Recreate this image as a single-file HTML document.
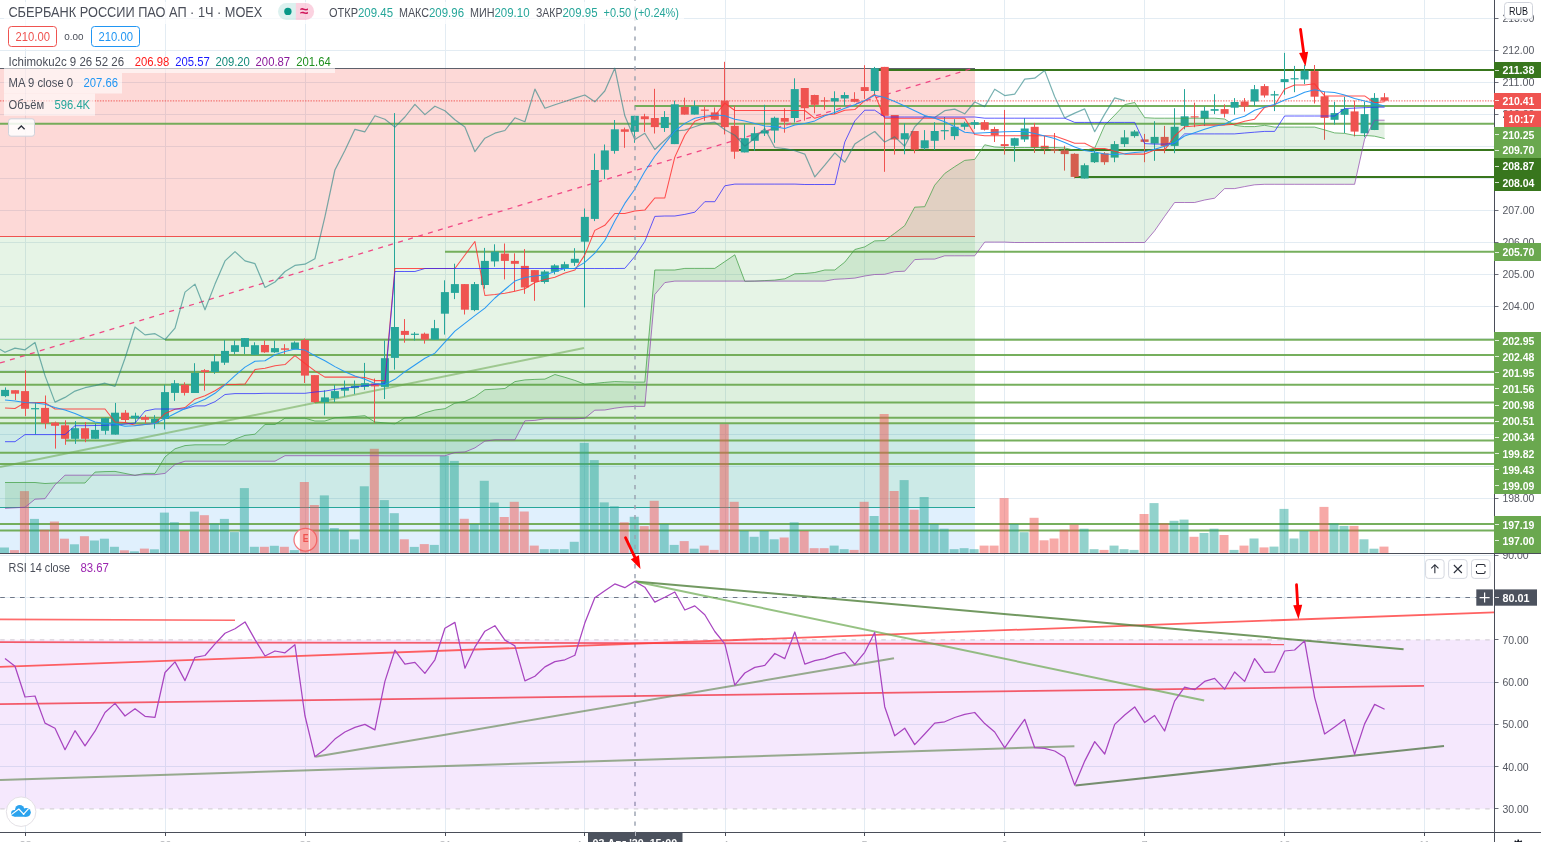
<!DOCTYPE html>
<html lang="ru"><head><meta charset="utf-8"><title>chart</title><style>html,body{margin:0;padding:0;background:#fff}body{width:1541px;height:842px;overflow:hidden}</style></head><body>
<svg width="1541" height="842" viewBox="0 0 1541 842" font-family='"Liberation Sans", "DejaVu Sans", sans-serif' style="display:block">
<rect width="1541" height="842" fill="#fff"/>
<defs><clipPath id="p1"><rect x="0" y="0" width="1494" height="553"/></clipPath><clipPath id="p2"><rect x="0" y="554" width="1494" height="278"/></clipPath></defs>
<g shape-rendering="crispEdges">
<rect x="25" y="0" width="1" height="832" fill="#e3ecf3"/>
<rect x="165" y="0" width="1" height="832" fill="#e3ecf3"/>
<rect x="305" y="0" width="1" height="832" fill="#e3ecf3"/>
<rect x="445" y="0" width="1" height="832" fill="#e3ecf3"/>
<rect x="584" y="0" width="1" height="832" fill="#e3ecf3"/>
<rect x="725" y="0" width="1" height="832" fill="#e3ecf3"/>
<rect x="864" y="0" width="1" height="832" fill="#e3ecf3"/>
<rect x="1004" y="0" width="1" height="832" fill="#e3ecf3"/>
<rect x="1144" y="0" width="1" height="832" fill="#e3ecf3"/>
<rect x="1284" y="0" width="1" height="832" fill="#e3ecf3"/>
<rect x="1424" y="0" width="1" height="832" fill="#e3ecf3"/>
<rect x="0" y="530" width="1494" height="1" fill="#e3ecf3"/>
<rect x="0" y="498" width="1494" height="1" fill="#e3ecf3"/>
<rect x="0" y="466" width="1494" height="1" fill="#e3ecf3"/>
<rect x="0" y="434" width="1494" height="1" fill="#e3ecf3"/>
<rect x="0" y="402" width="1494" height="1" fill="#e3ecf3"/>
<rect x="0" y="370" width="1494" height="1" fill="#e3ecf3"/>
<rect x="0" y="338" width="1494" height="1" fill="#e3ecf3"/>
<rect x="0" y="306" width="1494" height="1" fill="#e3ecf3"/>
<rect x="0" y="274" width="1494" height="1" fill="#e3ecf3"/>
<rect x="0" y="242" width="1494" height="1" fill="#e3ecf3"/>
<rect x="0" y="210" width="1494" height="1" fill="#e3ecf3"/>
<rect x="0" y="178" width="1494" height="1" fill="#e3ecf3"/>
<rect x="0" y="146" width="1494" height="1" fill="#e3ecf3"/>
<rect x="0" y="114" width="1494" height="1" fill="#e3ecf3"/>
<rect x="0" y="82" width="1494" height="1" fill="#e3ecf3"/>
<rect x="0" y="50" width="1494" height="1" fill="#e3ecf3"/>
<rect x="0" y="18" width="1494" height="1" fill="#e3ecf3"/>
<rect x="0" y="555" width="1494" height="1" fill="#e3ecf3"/>
<rect x="0" y="597" width="1494" height="1" fill="#e3ecf3"/>
<rect x="0" y="682" width="1494" height="1" fill="#e3ecf3"/>
<rect x="0" y="724" width="1494" height="1" fill="#e3ecf3"/>
<rect x="0" y="766" width="1494" height="1" fill="#e3ecf3"/>
</g>
<g clip-path="url(#p1)">
<rect x="0" y="69" width="975" height="167.5" fill="rgba(244,67,54,0.2)"/>
<rect x="0" y="237" width="975" height="103" fill="rgba(76,175,80,0.14)"/>
<rect x="0" y="340" width="975" height="83.39999999999998" fill="rgba(76,175,80,0.19)"/>
<rect x="0" y="423.4" width="975" height="84.0" fill="rgba(0,150,136,0.2)"/>
<rect x="0" y="507.4" width="975" height="45.60000000000002" fill="rgba(33,150,243,0.14)"/>
<g shape-rendering="crispEdges">
<rect x="0" y="68" width="975" height="1" fill="#5d606b"/>
<rect x="0" y="236" width="975" height="1" fill="#ef5350"/>
<rect x="0" y="507" width="975" height="1" fill="#26a69a"/>
<rect x="0" y="339" width="975" height="1" fill="rgba(76,175,80,0.45)"/>
</g>
<line x1="875" y1="70.0" x2="1494" y2="70.0" stroke="#38761d" stroke-width="2" stroke-opacity="1"/>
<line x1="634.5" y1="105.9" x2="1494" y2="105.9" stroke="#6aa84f" stroke-width="2" stroke-opacity="0.92"/>
<line x1="0" y1="123.8" x2="1494" y2="123.8" stroke="#6aa84f" stroke-width="2" stroke-opacity="0.92"/>
<line x1="739" y1="150.0" x2="1494" y2="150.0" stroke="#38761d" stroke-width="2" stroke-opacity="1"/>
<line x1="1075" y1="177.0" x2="1494" y2="177.0" stroke="#38761d" stroke-width="2" stroke-opacity="1"/>
<line x1="445" y1="251.7" x2="1494" y2="251.7" stroke="#6aa84f" stroke-width="2" stroke-opacity="0.92"/>
<line x1="165" y1="339.8" x2="1494" y2="339.8" stroke="#6aa84f" stroke-width="2" stroke-opacity="0.92"/>
<line x1="0" y1="355.0" x2="1494" y2="355.0" stroke="#6aa84f" stroke-width="2" stroke-opacity="0.92"/>
<line x1="0" y1="371.9" x2="1494" y2="371.9" stroke="#6aa84f" stroke-width="2" stroke-opacity="0.92"/>
<line x1="0" y1="384.7" x2="1494" y2="384.7" stroke="#6aa84f" stroke-width="2" stroke-opacity="0.92"/>
<line x1="315" y1="402.6" x2="1494" y2="402.6" stroke="#6aa84f" stroke-width="2" stroke-opacity="0.92"/>
<line x1="0" y1="417.7" x2="1494" y2="417.7" stroke="#6aa84f" stroke-width="2" stroke-opacity="0.92"/>
<line x1="0" y1="423.3" x2="1494" y2="423.3" stroke="#6aa84f" stroke-width="2" stroke-opacity="0.92"/>
<line x1="65" y1="440.4" x2="1494" y2="440.4" stroke="#6aa84f" stroke-width="2" stroke-opacity="0.92"/>
<line x1="0" y1="452.8" x2="1494" y2="452.8" stroke="#6aa84f" stroke-width="2" stroke-opacity="0.92"/>
<line x1="0" y1="464.0" x2="1494" y2="464.0" stroke="#6aa84f" stroke-width="2" stroke-opacity="0.92"/>
<line x1="0" y1="524.0" x2="1494" y2="524.0" stroke="#6aa84f" stroke-width="2" stroke-opacity="0.92"/>
<line x1="0" y1="530.4" x2="1494" y2="530.4" stroke="#6aa84f" stroke-width="2" stroke-opacity="0.92"/>
<line x1="0" y1="467" x2="584" y2="348" stroke="#6aa84f" stroke-width="2" stroke-opacity="0.55"/>
<line x1="0" y1="363" x2="972" y2="68.5" stroke="#f0407f" stroke-width="1.3" stroke-dasharray="5,5.4" stroke-opacity="0.95"/>
<line x1="0" y1="100.9" x2="1494" y2="100.9" stroke="#ef5350" stroke-width="1.2" stroke-opacity="0.75" stroke-dasharray="1.4,1.3"/>
<circle cx="305.4" cy="539.7" r="11.4" fill="#fff" stroke="rgb(242,120,125)" stroke-width="1.3"/>
<text x="305.6" y="541.7" font-size="11" font-weight="bold" fill="#ef5350" text-anchor="middle" textLength="5.8" lengthAdjust="spacingAndGlyphs">E</text>
<rect x="-0.05" y="547.5" width="9" height="5.5" fill="rgba(38,166,154,0.5)"/>
<rect x="9.95" y="550.1" width="9" height="2.9" fill="rgba(239,83,80,0.5)"/>
<rect x="19.94" y="491.1" width="9" height="61.9" fill="rgba(239,83,80,0.5)"/>
<rect x="29.94" y="518.9" width="9" height="34.1" fill="rgba(38,166,154,0.5)"/>
<rect x="39.94" y="529.8" width="9" height="23.2" fill="rgba(239,83,80,0.5)"/>
<rect x="49.93" y="521.5" width="9" height="31.5" fill="rgba(239,83,80,0.5)"/>
<rect x="59.93" y="538.7" width="9" height="14.3" fill="rgba(239,83,80,0.5)"/>
<rect x="69.93" y="544.3" width="9" height="8.7" fill="rgba(38,166,154,0.5)"/>
<rect x="79.92" y="536.2" width="9" height="16.8" fill="rgba(239,83,80,0.5)"/>
<rect x="89.92" y="540.5" width="9" height="12.5" fill="rgba(38,166,154,0.5)"/>
<rect x="99.91" y="538.7" width="9" height="14.3" fill="rgba(38,166,154,0.5)"/>
<rect x="109.91" y="546.8" width="9" height="6.2" fill="rgba(38,166,154,0.5)"/>
<rect x="119.91" y="550.3" width="9" height="2.7" fill="rgba(239,83,80,0.5)"/>
<rect x="129.90" y="551.3" width="9" height="1.7" fill="rgba(38,166,154,0.5)"/>
<rect x="139.90" y="548.6" width="9" height="4.4" fill="rgba(239,83,80,0.5)"/>
<rect x="149.90" y="549.3" width="9" height="3.7" fill="rgba(38,166,154,0.5)"/>
<rect x="159.89" y="512.6" width="9" height="40.4" fill="rgba(38,166,154,0.5)"/>
<rect x="169.89" y="522.2" width="9" height="30.8" fill="rgba(38,166,154,0.5)"/>
<rect x="179.89" y="531.1" width="9" height="21.9" fill="rgba(239,83,80,0.5)"/>
<rect x="189.88" y="511.6" width="9" height="41.4" fill="rgba(38,166,154,0.5)"/>
<rect x="199.88" y="515.2" width="9" height="37.8" fill="rgba(239,83,80,0.5)"/>
<rect x="209.88" y="523.5" width="9" height="29.5" fill="rgba(38,166,154,0.5)"/>
<rect x="219.87" y="518.9" width="9" height="34.1" fill="rgba(38,166,154,0.5)"/>
<rect x="229.87" y="532.1" width="9" height="20.9" fill="rgba(38,166,154,0.5)"/>
<rect x="239.87" y="488.1" width="9" height="64.9" fill="rgba(38,166,154,0.5)"/>
<rect x="249.86" y="546.8" width="9" height="6.2" fill="rgba(38,166,154,0.5)"/>
<rect x="259.86" y="546.8" width="9" height="6.2" fill="rgba(239,83,80,0.5)"/>
<rect x="269.86" y="545.8" width="9" height="7.2" fill="rgba(38,166,154,0.5)"/>
<rect x="279.85" y="546.8" width="9" height="6.2" fill="rgba(239,83,80,0.5)"/>
<rect x="289.85" y="550.1" width="9" height="2.9" fill="rgba(38,166,154,0.5)"/>
<rect x="299.84" y="482.0" width="9" height="71.0" fill="rgba(239,83,80,0.5)"/>
<rect x="309.84" y="505.0" width="9" height="48.0" fill="rgba(239,83,80,0.5)"/>
<rect x="319.84" y="495.4" width="9" height="57.6" fill="rgba(38,166,154,0.5)"/>
<rect x="329.83" y="528.1" width="9" height="24.9" fill="rgba(38,166,154,0.5)"/>
<rect x="339.83" y="530.1" width="9" height="22.9" fill="rgba(38,166,154,0.5)"/>
<rect x="349.83" y="539.4" width="9" height="13.6" fill="rgba(38,166,154,0.5)"/>
<rect x="359.82" y="486.3" width="9" height="66.7" fill="rgba(38,166,154,0.5)"/>
<rect x="369.82" y="448.8" width="9" height="104.2" fill="rgba(239,83,80,0.5)"/>
<rect x="379.82" y="500.1" width="9" height="52.9" fill="rgba(38,166,154,0.5)"/>
<rect x="389.81" y="513.2" width="9" height="39.8" fill="rgba(38,166,154,0.5)"/>
<rect x="399.81" y="539.3" width="9" height="13.7" fill="rgba(239,83,80,0.5)"/>
<rect x="409.81" y="546.9" width="9" height="6.1" fill="rgba(38,166,154,0.5)"/>
<rect x="419.80" y="544.1" width="9" height="8.9" fill="rgba(239,83,80,0.5)"/>
<rect x="429.80" y="544.9" width="9" height="8.1" fill="rgba(38,166,154,0.5)"/>
<rect x="439.80" y="455.8" width="9" height="97.2" fill="rgba(38,166,154,0.5)"/>
<rect x="449.79" y="460.9" width="9" height="92.1" fill="rgba(38,166,154,0.5)"/>
<rect x="459.79" y="518.8" width="9" height="34.2" fill="rgba(239,83,80,0.5)"/>
<rect x="469.79" y="524.1" width="9" height="28.9" fill="rgba(38,166,154,0.5)"/>
<rect x="479.78" y="480.8" width="9" height="72.2" fill="rgba(38,166,154,0.5)"/>
<rect x="489.78" y="502.6" width="9" height="50.4" fill="rgba(38,166,154,0.5)"/>
<rect x="499.77" y="517.0" width="9" height="36.0" fill="rgba(239,83,80,0.5)"/>
<rect x="509.77" y="501.8" width="9" height="51.2" fill="rgba(239,83,80,0.5)"/>
<rect x="519.77" y="511.5" width="9" height="41.5" fill="rgba(239,83,80,0.5)"/>
<rect x="529.76" y="545.6" width="9" height="7.4" fill="rgba(239,83,80,0.5)"/>
<rect x="539.76" y="549.2" width="9" height="3.8" fill="rgba(38,166,154,0.5)"/>
<rect x="549.76" y="549.2" width="9" height="3.8" fill="rgba(38,166,154,0.5)"/>
<rect x="559.75" y="549.2" width="9" height="3.8" fill="rgba(38,166,154,0.5)"/>
<rect x="569.75" y="541.8" width="9" height="11.2" fill="rgba(38,166,154,0.5)"/>
<rect x="579.75" y="442.9" width="9" height="110.1" fill="rgba(38,166,154,0.5)"/>
<rect x="589.74" y="460.1" width="9" height="92.9" fill="rgba(38,166,154,0.5)"/>
<rect x="599.74" y="502.4" width="9" height="50.6" fill="rgba(38,166,154,0.5)"/>
<rect x="609.74" y="506.2" width="9" height="46.8" fill="rgba(38,166,154,0.5)"/>
<rect x="619.73" y="522.3" width="9" height="30.7" fill="rgba(239,83,80,0.5)"/>
<rect x="629.73" y="516.8" width="9" height="36.2" fill="rgba(38,166,154,0.5)"/>
<rect x="639.73" y="526.1" width="9" height="26.9" fill="rgba(239,83,80,0.5)"/>
<rect x="649.72" y="500.8" width="9" height="52.2" fill="rgba(239,83,80,0.5)"/>
<rect x="659.72" y="524.1" width="9" height="28.9" fill="rgba(38,166,154,0.5)"/>
<rect x="669.72" y="544.9" width="9" height="8.1" fill="rgba(38,166,154,0.5)"/>
<rect x="679.71" y="541.1" width="9" height="11.9" fill="rgba(239,83,80,0.5)"/>
<rect x="689.71" y="548.7" width="9" height="4.3" fill="rgba(38,166,154,0.5)"/>
<rect x="699.70" y="545.6" width="9" height="7.4" fill="rgba(239,83,80,0.5)"/>
<rect x="709.70" y="549.9" width="9" height="3.1" fill="rgba(239,83,80,0.5)"/>
<rect x="719.70" y="424.2" width="9" height="128.8" fill="rgba(239,83,80,0.5)"/>
<rect x="729.69" y="501.8" width="9" height="51.2" fill="rgba(239,83,80,0.5)"/>
<rect x="739.69" y="531.0" width="9" height="22.0" fill="rgba(38,166,154,0.5)"/>
<rect x="749.69" y="536.8" width="9" height="16.2" fill="rgba(38,166,154,0.5)"/>
<rect x="759.68" y="531.0" width="9" height="22.0" fill="rgba(38,166,154,0.5)"/>
<rect x="769.68" y="539.3" width="9" height="13.7" fill="rgba(38,166,154,0.5)"/>
<rect x="779.68" y="537.5" width="9" height="15.5" fill="rgba(239,83,80,0.5)"/>
<rect x="789.67" y="522.3" width="9" height="30.7" fill="rgba(38,166,154,0.5)"/>
<rect x="799.67" y="531.0" width="9" height="22.0" fill="rgba(239,83,80,0.5)"/>
<rect x="809.67" y="548.2" width="9" height="4.8" fill="rgba(239,83,80,0.5)"/>
<rect x="819.66" y="548.2" width="9" height="4.8" fill="rgba(239,83,80,0.5)"/>
<rect x="829.66" y="545.6" width="9" height="7.4" fill="rgba(38,166,154,0.5)"/>
<rect x="839.66" y="549.2" width="9" height="3.8" fill="rgba(38,166,154,0.5)"/>
<rect x="849.65" y="549.9" width="9" height="3.1" fill="rgba(239,83,80,0.5)"/>
<rect x="859.65" y="501.8" width="9" height="51.2" fill="rgba(239,83,80,0.5)"/>
<rect x="869.65" y="516.0" width="9" height="37.0" fill="rgba(38,166,154,0.5)"/>
<rect x="879.64" y="414.0" width="9" height="139.0" fill="rgba(239,83,80,0.5)"/>
<rect x="889.64" y="491.0" width="9" height="62.0" fill="rgba(239,83,80,0.5)"/>
<rect x="899.63" y="480.1" width="9" height="72.9" fill="rgba(38,166,154,0.5)"/>
<rect x="909.63" y="509.7" width="9" height="43.3" fill="rgba(239,83,80,0.5)"/>
<rect x="919.63" y="497.0" width="9" height="56.0" fill="rgba(38,166,154,0.5)"/>
<rect x="929.62" y="524.1" width="9" height="28.9" fill="rgba(38,166,154,0.5)"/>
<rect x="939.62" y="528.7" width="9" height="24.3" fill="rgba(38,166,154,0.5)"/>
<rect x="949.62" y="549.2" width="9" height="3.8" fill="rgba(38,166,154,0.5)"/>
<rect x="959.61" y="548.2" width="9" height="4.8" fill="rgba(38,166,154,0.5)"/>
<rect x="969.61" y="549.2" width="9" height="3.8" fill="rgba(38,166,154,0.5)"/>
<rect x="979.61" y="545.6" width="9" height="7.4" fill="rgba(239,83,80,0.5)"/>
<rect x="989.60" y="545.6" width="9" height="7.4" fill="rgba(239,83,80,0.5)"/>
<rect x="999.60" y="498.1" width="9" height="54.9" fill="rgba(239,83,80,0.5)"/>
<rect x="1009.60" y="524.1" width="9" height="28.9" fill="rgba(38,166,154,0.5)"/>
<rect x="1019.59" y="532.2" width="9" height="20.8" fill="rgba(38,166,154,0.5)"/>
<rect x="1029.59" y="517.8" width="9" height="35.2" fill="rgba(239,83,80,0.5)"/>
<rect x="1039.59" y="540.3" width="9" height="12.7" fill="rgba(239,83,80,0.5)"/>
<rect x="1049.58" y="538.5" width="9" height="14.5" fill="rgba(239,83,80,0.5)"/>
<rect x="1059.58" y="529.7" width="9" height="23.3" fill="rgba(239,83,80,0.5)"/>
<rect x="1069.58" y="524.6" width="9" height="28.4" fill="rgba(239,83,80,0.5)"/>
<rect x="1079.57" y="528.7" width="9" height="24.3" fill="rgba(38,166,154,0.5)"/>
<rect x="1089.57" y="549.2" width="9" height="3.8" fill="rgba(38,166,154,0.5)"/>
<rect x="1099.57" y="549.9" width="9" height="3.1" fill="rgba(239,83,80,0.5)"/>
<rect x="1109.56" y="545.6" width="9" height="7.4" fill="rgba(38,166,154,0.5)"/>
<rect x="1119.56" y="549.2" width="9" height="3.8" fill="rgba(38,166,154,0.5)"/>
<rect x="1129.55" y="549.9" width="9" height="3.1" fill="rgba(38,166,154,0.5)"/>
<rect x="1139.55" y="514.0" width="9" height="39.0" fill="rgba(239,83,80,0.5)"/>
<rect x="1149.55" y="503.1" width="9" height="49.9" fill="rgba(38,166,154,0.5)"/>
<rect x="1159.54" y="523.4" width="9" height="29.6" fill="rgba(239,83,80,0.5)"/>
<rect x="1169.54" y="520.8" width="9" height="32.2" fill="rgba(38,166,154,0.5)"/>
<rect x="1179.54" y="519.6" width="9" height="33.4" fill="rgba(38,166,154,0.5)"/>
<rect x="1189.53" y="536.8" width="9" height="16.2" fill="rgba(239,83,80,0.5)"/>
<rect x="1199.53" y="533.0" width="9" height="20.0" fill="rgba(38,166,154,0.5)"/>
<rect x="1209.53" y="528.7" width="9" height="24.3" fill="rgba(38,166,154,0.5)"/>
<rect x="1219.52" y="535.0" width="9" height="18.0" fill="rgba(239,83,80,0.5)"/>
<rect x="1229.52" y="549.9" width="9" height="3.1" fill="rgba(38,166,154,0.5)"/>
<rect x="1239.52" y="545.6" width="9" height="7.4" fill="rgba(239,83,80,0.5)"/>
<rect x="1249.51" y="538.5" width="9" height="14.5" fill="rgba(38,166,154,0.5)"/>
<rect x="1259.51" y="547.4" width="9" height="5.6" fill="rgba(239,83,80,0.5)"/>
<rect x="1269.51" y="546.6" width="9" height="6.4" fill="rgba(38,166,154,0.5)"/>
<rect x="1279.50" y="508.9" width="9" height="44.1" fill="rgba(38,166,154,0.5)"/>
<rect x="1289.50" y="538.5" width="9" height="14.5" fill="rgba(38,166,154,0.5)"/>
<rect x="1299.49" y="531.0" width="9" height="22.0" fill="rgba(38,166,154,0.5)"/>
<rect x="1309.49" y="531.0" width="9" height="22.0" fill="rgba(239,83,80,0.5)"/>
<rect x="1319.49" y="506.9" width="9" height="46.1" fill="rgba(239,83,80,0.5)"/>
<rect x="1329.48" y="523.4" width="9" height="29.6" fill="rgba(38,166,154,0.5)"/>
<rect x="1339.48" y="525.9" width="9" height="27.1" fill="rgba(38,166,154,0.5)"/>
<rect x="1349.48" y="525.9" width="9" height="27.1" fill="rgba(239,83,80,0.5)"/>
<rect x="1359.47" y="539.3" width="9" height="13.7" fill="rgba(38,166,154,0.5)"/>
<rect x="1369.47" y="548.7" width="9" height="4.3" fill="rgba(38,166,154,0.5)"/>
<rect x="1379.47" y="546.6" width="9" height="6.4" fill="rgba(239,83,80,0.5)"/>
<g>
<rect x="5" y="387.4" width="1" height="9.8" fill="#26a69a"/>
<rect x="1.05" y="389.9" width="8" height="6.2" fill="#26a69a"/>
<rect x="15" y="390.2" width="1" height="9.8" fill="#ef5350"/>
<rect x="11.05" y="390.2" width="8" height="3.5" fill="#ef5350"/>
<rect x="25" y="370.2" width="1" height="45.9" fill="#ef5350"/>
<rect x="21.04" y="391.1" width="8" height="17.7" fill="#ef5350"/>
<rect x="35" y="402.6" width="1" height="31.6" fill="#26a69a"/>
<rect x="31.04" y="408.1" width="8" height="1.2" fill="#26a69a"/>
<rect x="45" y="395.5" width="1" height="33.2" fill="#ef5350"/>
<rect x="41.04" y="407.9" width="8" height="15.4" fill="#ef5350"/>
<rect x="55" y="421.6" width="1" height="27.0" fill="#ef5350"/>
<rect x="51.03" y="422.6" width="8" height="3.2" fill="#ef5350"/>
<rect x="65" y="420.3" width="1" height="24.5" fill="#ef5350"/>
<rect x="61.03" y="425.3" width="8" height="13.5" fill="#ef5350"/>
<rect x="75" y="421.1" width="1" height="22.8" fill="#26a69a"/>
<rect x="71.03" y="428.2" width="8" height="10.6" fill="#26a69a"/>
<rect x="85" y="422.0" width="1" height="20.2" fill="#ef5350"/>
<rect x="81.02" y="428.2" width="8" height="10.6" fill="#ef5350"/>
<rect x="95" y="423.6" width="1" height="15.2" fill="#26a69a"/>
<rect x="91.02" y="429.9" width="8" height="8.9" fill="#26a69a"/>
<rect x="105" y="417.7" width="1" height="16.9" fill="#26a69a"/>
<rect x="101.01" y="418.1" width="8" height="12.7" fill="#26a69a"/>
<rect x="115" y="402.9" width="1" height="31.7" fill="#26a69a"/>
<rect x="111.01" y="412.7" width="8" height="21.9" fill="#26a69a"/>
<rect x="125" y="410.1" width="1" height="12.7" fill="#ef5350"/>
<rect x="121.01" y="412.7" width="8" height="7.3" fill="#ef5350"/>
<rect x="135" y="412.7" width="1" height="11.0" fill="#26a69a"/>
<rect x="131.00" y="415.7" width="8" height="2.7" fill="#26a69a"/>
<rect x="145" y="415.2" width="1" height="8.4" fill="#ef5350"/>
<rect x="141.00" y="417.1" width="8" height="2.7" fill="#ef5350"/>
<rect x="154" y="415.2" width="1" height="13.5" fill="#26a69a"/>
<rect x="151.00" y="418.9" width="8" height="4.4" fill="#26a69a"/>
<rect x="164" y="384.8" width="1" height="44.7" fill="#26a69a"/>
<rect x="160.99" y="392.1" width="8" height="26.8" fill="#26a69a"/>
<rect x="174" y="380.1" width="1" height="20.8" fill="#26a69a"/>
<rect x="170.99" y="383.3" width="8" height="9.6" fill="#26a69a"/>
<rect x="184" y="382.3" width="1" height="13.2" fill="#ef5350"/>
<rect x="180.99" y="384.8" width="8" height="8.1" fill="#ef5350"/>
<rect x="194" y="363.2" width="1" height="29.7" fill="#26a69a"/>
<rect x="190.98" y="372.9" width="8" height="20.1" fill="#26a69a"/>
<rect x="204" y="369.1" width="1" height="21.6" fill="#ef5350"/>
<rect x="200.98" y="370.2" width="8" height="1.9" fill="#ef5350"/>
<rect x="214" y="354.5" width="1" height="19.4" fill="#26a69a"/>
<rect x="210.98" y="361.4" width="8" height="10.6" fill="#26a69a"/>
<rect x="224" y="340.1" width="1" height="24.8" fill="#26a69a"/>
<rect x="220.97" y="350.9" width="8" height="11.8" fill="#26a69a"/>
<rect x="234" y="340.5" width="1" height="13.7" fill="#26a69a"/>
<rect x="230.97" y="345.2" width="8" height="6.7" fill="#26a69a"/>
<rect x="244" y="338.1" width="1" height="16.0" fill="#26a69a"/>
<rect x="240.97" y="338.1" width="8" height="8.8" fill="#26a69a"/>
<rect x="254" y="342.3" width="1" height="12.5" fill="#26a69a"/>
<rect x="250.96" y="345.2" width="8" height="9.6" fill="#26a69a"/>
<rect x="264" y="340.5" width="1" height="12.3" fill="#ef5350"/>
<rect x="260.96" y="345.0" width="8" height="7.3" fill="#ef5350"/>
<rect x="274" y="340.5" width="1" height="12.3" fill="#26a69a"/>
<rect x="270.96" y="348.1" width="8" height="4.2" fill="#26a69a"/>
<rect x="284" y="344.2" width="1" height="9.8" fill="#ef5350"/>
<rect x="280.95" y="348.3" width="8" height="1.5" fill="#ef5350"/>
<rect x="294" y="341.3" width="1" height="7.9" fill="#26a69a"/>
<rect x="290.95" y="342.5" width="8" height="6.7" fill="#26a69a"/>
<rect x="304" y="338.5" width="1" height="44.5" fill="#ef5350"/>
<rect x="300.94" y="340.0" width="8" height="35.6" fill="#ef5350"/>
<rect x="314" y="375.1" width="1" height="27.8" fill="#ef5350"/>
<rect x="310.94" y="375.1" width="8" height="27.0" fill="#ef5350"/>
<rect x="324" y="390.3" width="1" height="25.0" fill="#26a69a"/>
<rect x="320.94" y="397.4" width="8" height="4.7" fill="#26a69a"/>
<rect x="334" y="384.9" width="1" height="17.2" fill="#26a69a"/>
<rect x="330.93" y="391.1" width="8" height="7.1" fill="#26a69a"/>
<rect x="344" y="380.5" width="1" height="16.0" fill="#26a69a"/>
<rect x="340.93" y="387.7" width="8" height="3.0" fill="#26a69a"/>
<rect x="354" y="380.5" width="1" height="13.7" fill="#26a69a"/>
<rect x="350.93" y="385.7" width="8" height="2.4" fill="#26a69a"/>
<rect x="364" y="362.9" width="1" height="27.0" fill="#26a69a"/>
<rect x="360.92" y="383.2" width="8" height="3.7" fill="#26a69a"/>
<rect x="374" y="378.5" width="1" height="44.7" fill="#ef5350"/>
<rect x="370.92" y="383.5" width="8" height="2.9" fill="#ef5350"/>
<rect x="384" y="340.5" width="1" height="58.5" fill="#26a69a"/>
<rect x="380.92" y="358.2" width="8" height="28.7" fill="#26a69a"/>
<rect x="394" y="113.1" width="1" height="256.5" fill="#26a69a"/>
<rect x="390.91" y="327.0" width="8" height="30.9" fill="#26a69a"/>
<rect x="404" y="319.1" width="1" height="23.6" fill="#ef5350"/>
<rect x="400.91" y="330.9" width="8" height="4.0" fill="#ef5350"/>
<rect x="414" y="332.1" width="1" height="8.4" fill="#26a69a"/>
<rect x="410.91" y="333.7" width="8" height="1.2" fill="#26a69a"/>
<rect x="424" y="332.6" width="1" height="11.0" fill="#ef5350"/>
<rect x="420.90" y="333.7" width="8" height="5.9" fill="#ef5350"/>
<rect x="434" y="319.9" width="1" height="19.7" fill="#26a69a"/>
<rect x="430.90" y="328.2" width="8" height="11.5" fill="#26a69a"/>
<rect x="444" y="280.3" width="1" height="54.3" fill="#26a69a"/>
<rect x="440.90" y="292.1" width="8" height="21.6" fill="#26a69a"/>
<rect x="454" y="263.7" width="1" height="35.4" fill="#26a69a"/>
<rect x="450.89" y="284.1" width="8" height="8.8" fill="#26a69a"/>
<rect x="464" y="284.1" width="1" height="30.4" fill="#ef5350"/>
<rect x="460.89" y="284.1" width="8" height="25.6" fill="#ef5350"/>
<rect x="474" y="282.0" width="1" height="29.2" fill="#26a69a"/>
<rect x="470.89" y="284.1" width="8" height="26.0" fill="#26a69a"/>
<rect x="484" y="247.9" width="1" height="40.8" fill="#26a69a"/>
<rect x="480.88" y="260.9" width="8" height="24.1" fill="#26a69a"/>
<rect x="494" y="244.3" width="1" height="22.4" fill="#26a69a"/>
<rect x="490.88" y="251.6" width="8" height="9.8" fill="#26a69a"/>
<rect x="504" y="243.5" width="1" height="35.9" fill="#ef5350"/>
<rect x="500.88" y="253.6" width="8" height="7.3" fill="#ef5350"/>
<rect x="514" y="253.3" width="1" height="38.0" fill="#ef5350"/>
<rect x="510.87" y="260.9" width="8" height="2.9" fill="#ef5350"/>
<rect x="524" y="249.1" width="1" height="44.7" fill="#ef5350"/>
<rect x="520.87" y="265.9" width="8" height="21.6" fill="#ef5350"/>
<rect x="534" y="270.1" width="1" height="30.7" fill="#ef5350"/>
<rect x="530.86" y="270.1" width="8" height="11.8" fill="#ef5350"/>
<rect x="544" y="270.1" width="1" height="13.5" fill="#26a69a"/>
<rect x="540.86" y="271.5" width="8" height="10.5" fill="#26a69a"/>
<rect x="554" y="264.2" width="1" height="10.1" fill="#26a69a"/>
<rect x="550.86" y="265.4" width="8" height="6.4" fill="#26a69a"/>
<rect x="564" y="261.7" width="1" height="9.3" fill="#26a69a"/>
<rect x="560.85" y="264.2" width="8" height="4.2" fill="#26a69a"/>
<rect x="574" y="248.2" width="1" height="17.7" fill="#26a69a"/>
<rect x="570.85" y="258.8" width="8" height="4.0" fill="#26a69a"/>
<rect x="584" y="208.5" width="1" height="98.9" fill="#26a69a"/>
<rect x="580.85" y="216.9" width="8" height="24.8" fill="#26a69a"/>
<rect x="594" y="153.6" width="1" height="67.5" fill="#26a69a"/>
<rect x="590.84" y="170.0" width="8" height="48.9" fill="#26a69a"/>
<rect x="604" y="144.5" width="1" height="34.6" fill="#26a69a"/>
<rect x="600.84" y="150.4" width="8" height="19.4" fill="#26a69a"/>
<rect x="614" y="120.0" width="1" height="33.7" fill="#26a69a"/>
<rect x="610.84" y="129.3" width="8" height="21.6" fill="#26a69a"/>
<rect x="624" y="127.6" width="1" height="20.2" fill="#ef5350"/>
<rect x="620.83" y="129.3" width="8" height="2.5" fill="#ef5350"/>
<rect x="634" y="115.8" width="1" height="27.0" fill="#26a69a"/>
<rect x="630.83" y="115.8" width="8" height="16.0" fill="#26a69a"/>
<rect x="644" y="113.8" width="1" height="18.1" fill="#ef5350"/>
<rect x="640.83" y="116.3" width="8" height="2.9" fill="#ef5350"/>
<rect x="654" y="88.8" width="1" height="44.7" fill="#ef5350"/>
<rect x="650.82" y="118.0" width="8" height="9.1" fill="#ef5350"/>
<rect x="664" y="111.1" width="1" height="20.8" fill="#26a69a"/>
<rect x="660.82" y="117.0" width="8" height="11.0" fill="#26a69a"/>
<rect x="674" y="100.6" width="1" height="43.5" fill="#26a69a"/>
<rect x="670.82" y="104.3" width="8" height="39.8" fill="#26a69a"/>
<rect x="684" y="97.7" width="1" height="16.9" fill="#ef5350"/>
<rect x="680.81" y="107.0" width="8" height="7.6" fill="#ef5350"/>
<rect x="694" y="100.6" width="1" height="14.0" fill="#26a69a"/>
<rect x="690.81" y="106.2" width="8" height="8.4" fill="#26a69a"/>
<rect x="704" y="106.5" width="1" height="14.3" fill="#ef5350"/>
<rect x="700.80" y="109.6" width="8" height="1.2" fill="#ef5350"/>
<rect x="714" y="107.4" width="1" height="12.3" fill="#ef5350"/>
<rect x="710.80" y="112.4" width="8" height="7.3" fill="#ef5350"/>
<rect x="724" y="61.8" width="1" height="72.6" fill="#ef5350"/>
<rect x="720.80" y="100.6" width="8" height="26.5" fill="#ef5350"/>
<rect x="734" y="105.7" width="1" height="53.1" fill="#ef5350"/>
<rect x="730.79" y="125.9" width="8" height="25.8" fill="#ef5350"/>
<rect x="744" y="124.2" width="1" height="28.2" fill="#26a69a"/>
<rect x="740.79" y="138.2" width="8" height="14.2" fill="#26a69a"/>
<rect x="754" y="126.8" width="1" height="24.0" fill="#26a69a"/>
<rect x="750.79" y="133.2" width="8" height="7.6" fill="#26a69a"/>
<rect x="764" y="104.8" width="1" height="31.2" fill="#26a69a"/>
<rect x="760.78" y="130.5" width="8" height="3.0" fill="#26a69a"/>
<rect x="774" y="116.6" width="1" height="26.2" fill="#26a69a"/>
<rect x="770.78" y="117.8" width="8" height="12.8" fill="#26a69a"/>
<rect x="784" y="108.2" width="1" height="24.5" fill="#ef5350"/>
<rect x="780.78" y="118.0" width="8" height="3.7" fill="#ef5350"/>
<rect x="794" y="78.3" width="1" height="44.2" fill="#26a69a"/>
<rect x="790.77" y="89.1" width="8" height="28.9" fill="#26a69a"/>
<rect x="804" y="88.0" width="1" height="32.6" fill="#ef5350"/>
<rect x="800.77" y="88.0" width="8" height="20.2" fill="#ef5350"/>
<rect x="814" y="94.7" width="1" height="18.6" fill="#ef5350"/>
<rect x="810.77" y="95.0" width="8" height="9.8" fill="#ef5350"/>
<rect x="824" y="97.2" width="1" height="12.7" fill="#ef5350"/>
<rect x="820.76" y="100.3" width="8" height="1.2" fill="#ef5350"/>
<rect x="834" y="91.3" width="1" height="22.8" fill="#26a69a"/>
<rect x="830.76" y="98.1" width="8" height="3.4" fill="#26a69a"/>
<rect x="844" y="92.2" width="1" height="13.5" fill="#26a69a"/>
<rect x="840.76" y="95.0" width="8" height="3.5" fill="#26a69a"/>
<rect x="854" y="92.2" width="1" height="10.1" fill="#ef5350"/>
<rect x="850.75" y="98.9" width="8" height="2.9" fill="#ef5350"/>
<rect x="864" y="65.2" width="1" height="33.7" fill="#ef5350"/>
<rect x="860.75" y="87.1" width="8" height="3.9" fill="#ef5350"/>
<rect x="874" y="66.9" width="1" height="27.8" fill="#26a69a"/>
<rect x="870.75" y="68.2" width="8" height="22.8" fill="#26a69a"/>
<rect x="884" y="66.9" width="1" height="104.9" fill="#ef5350"/>
<rect x="880.74" y="66.9" width="8" height="48.9" fill="#ef5350"/>
<rect x="894" y="115.0" width="1" height="39.6" fill="#ef5350"/>
<rect x="890.74" y="115.0" width="8" height="24.5" fill="#ef5350"/>
<rect x="904" y="123.4" width="1" height="30.9" fill="#26a69a"/>
<rect x="900.73" y="133.2" width="8" height="6.2" fill="#26a69a"/>
<rect x="914" y="131.0" width="1" height="22.3" fill="#ef5350"/>
<rect x="910.73" y="131.0" width="8" height="18.6" fill="#ef5350"/>
<rect x="924" y="130.1" width="1" height="19.7" fill="#26a69a"/>
<rect x="920.73" y="140.3" width="8" height="8.1" fill="#26a69a"/>
<rect x="934" y="122.2" width="1" height="27.7" fill="#26a69a"/>
<rect x="930.72" y="131.0" width="8" height="9.8" fill="#26a69a"/>
<rect x="944" y="117.0" width="1" height="22.8" fill="#26a69a"/>
<rect x="940.72" y="130.1" width="8" height="1.2" fill="#26a69a"/>
<rect x="954" y="119.2" width="1" height="20.6" fill="#26a69a"/>
<rect x="950.72" y="126.8" width="8" height="9.3" fill="#26a69a"/>
<rect x="964" y="121.7" width="1" height="8.1" fill="#26a69a"/>
<rect x="960.71" y="123.4" width="8" height="3.4" fill="#26a69a"/>
<rect x="974" y="120.0" width="1" height="8.9" fill="#26a69a"/>
<rect x="970.71" y="122.2" width="8" height="2.5" fill="#26a69a"/>
<rect x="984" y="120.0" width="1" height="10.6" fill="#ef5350"/>
<rect x="980.71" y="122.2" width="8" height="7.6" fill="#ef5350"/>
<rect x="994" y="126.8" width="1" height="15.2" fill="#ef5350"/>
<rect x="990.70" y="129.0" width="8" height="6.2" fill="#ef5350"/>
<rect x="1004" y="109.9" width="1" height="44.7" fill="#ef5350"/>
<rect x="1000.70" y="144.1" width="8" height="2.0" fill="#ef5350"/>
<rect x="1014" y="137.7" width="1" height="24.0" fill="#26a69a"/>
<rect x="1010.70" y="138.2" width="8" height="7.6" fill="#26a69a"/>
<rect x="1024" y="118.3" width="1" height="23.6" fill="#26a69a"/>
<rect x="1020.69" y="128.5" width="8" height="11.0" fill="#26a69a"/>
<rect x="1034" y="122.9" width="1" height="30.0" fill="#ef5350"/>
<rect x="1030.69" y="126.8" width="8" height="20.8" fill="#ef5350"/>
<rect x="1044" y="136.0" width="1" height="18.2" fill="#ef5350"/>
<rect x="1040.69" y="145.8" width="8" height="2.9" fill="#ef5350"/>
<rect x="1054" y="133.0" width="1" height="20.2" fill="#ef5350"/>
<rect x="1050.68" y="149.5" width="8" height="1.2" fill="#ef5350"/>
<rect x="1064" y="145.8" width="1" height="24.8" fill="#ef5350"/>
<rect x="1060.68" y="150.4" width="8" height="3.7" fill="#ef5350"/>
<rect x="1074" y="153.3" width="1" height="25.0" fill="#ef5350"/>
<rect x="1070.68" y="153.8" width="8" height="23.1" fill="#ef5350"/>
<rect x="1084" y="163.4" width="1" height="15.2" fill="#26a69a"/>
<rect x="1080.67" y="165.2" width="8" height="13.3" fill="#26a69a"/>
<rect x="1094" y="149.5" width="1" height="13.5" fill="#26a69a"/>
<rect x="1090.67" y="152.9" width="8" height="9.3" fill="#26a69a"/>
<rect x="1104" y="152.1" width="1" height="12.7" fill="#ef5350"/>
<rect x="1100.66" y="153.3" width="8" height="8.9" fill="#ef5350"/>
<rect x="1114" y="141.1" width="1" height="21.1" fill="#26a69a"/>
<rect x="1110.66" y="144.1" width="8" height="13.5" fill="#26a69a"/>
<rect x="1124" y="130.1" width="1" height="16.9" fill="#26a69a"/>
<rect x="1120.66" y="137.4" width="8" height="6.7" fill="#26a69a"/>
<rect x="1134" y="130.1" width="1" height="7.6" fill="#26a69a"/>
<rect x="1130.65" y="131.5" width="8" height="4.6" fill="#26a69a"/>
<rect x="1144" y="133.9" width="1" height="28.3" fill="#ef5350"/>
<rect x="1140.65" y="139.4" width="8" height="2.5" fill="#ef5350"/>
<rect x="1154" y="121.2" width="1" height="39.6" fill="#26a69a"/>
<rect x="1150.65" y="136.9" width="8" height="6.7" fill="#26a69a"/>
<rect x="1164" y="125.9" width="1" height="27.3" fill="#ef5350"/>
<rect x="1160.64" y="136.9" width="8" height="9.3" fill="#ef5350"/>
<rect x="1174" y="108.2" width="1" height="45.0" fill="#26a69a"/>
<rect x="1170.64" y="126.8" width="8" height="19.1" fill="#26a69a"/>
<rect x="1184" y="89.1" width="1" height="40.2" fill="#26a69a"/>
<rect x="1180.64" y="116.3" width="8" height="9.6" fill="#26a69a"/>
<rect x="1194" y="102.6" width="1" height="24.6" fill="#ef5350"/>
<rect x="1190.63" y="116.3" width="8" height="1.2" fill="#ef5350"/>
<rect x="1204" y="106.5" width="1" height="19.4" fill="#26a69a"/>
<rect x="1200.63" y="110.7" width="8" height="8.1" fill="#26a69a"/>
<rect x="1214" y="94.2" width="1" height="19.9" fill="#26a69a"/>
<rect x="1210.63" y="109.1" width="8" height="1.7" fill="#26a69a"/>
<rect x="1224" y="104.3" width="1" height="13.2" fill="#ef5350"/>
<rect x="1220.62" y="109.1" width="8" height="4.7" fill="#ef5350"/>
<rect x="1234" y="98.1" width="1" height="16.5" fill="#26a69a"/>
<rect x="1230.62" y="102.0" width="8" height="5.7" fill="#26a69a"/>
<rect x="1244" y="98.1" width="1" height="13.5" fill="#ef5350"/>
<rect x="1240.62" y="101.5" width="8" height="5.1" fill="#ef5350"/>
<rect x="1254" y="85.0" width="1" height="21.1" fill="#26a69a"/>
<rect x="1250.61" y="89.2" width="8" height="12.3" fill="#26a69a"/>
<rect x="1264" y="84.1" width="1" height="13.5" fill="#ef5350"/>
<rect x="1260.61" y="86.1" width="8" height="9.4" fill="#ef5350"/>
<rect x="1274" y="90.9" width="1" height="20.2" fill="#26a69a"/>
<rect x="1270.61" y="94.2" width="8" height="1.3" fill="#26a69a"/>
<rect x="1284" y="52.9" width="1" height="41.8" fill="#26a69a"/>
<rect x="1280.60" y="79.1" width="8" height="3.0" fill="#26a69a"/>
<rect x="1294" y="65.9" width="1" height="26.3" fill="#26a69a"/>
<rect x="1290.60" y="78.2" width="8" height="1.2" fill="#26a69a"/>
<rect x="1304" y="64.7" width="1" height="19.4" fill="#26a69a"/>
<rect x="1300.59" y="70.6" width="8" height="8.9" fill="#26a69a"/>
<rect x="1314" y="65.0" width="1" height="38.5" fill="#ef5350"/>
<rect x="1310.59" y="71.1" width="8" height="25.6" fill="#ef5350"/>
<rect x="1324" y="91.7" width="1" height="48.1" fill="#ef5350"/>
<rect x="1320.59" y="96.3" width="8" height="21.6" fill="#ef5350"/>
<rect x="1334" y="101.8" width="1" height="22.8" fill="#26a69a"/>
<rect x="1330.58" y="113.1" width="8" height="6.7" fill="#26a69a"/>
<rect x="1344" y="96.8" width="1" height="36.3" fill="#26a69a"/>
<rect x="1340.58" y="108.9" width="8" height="5.9" fill="#26a69a"/>
<rect x="1354" y="100.5" width="1" height="35.9" fill="#ef5350"/>
<rect x="1350.58" y="111.4" width="8" height="20.2" fill="#ef5350"/>
<rect x="1364" y="101.8" width="1" height="35.4" fill="#26a69a"/>
<rect x="1360.57" y="114.1" width="8" height="19.2" fill="#26a69a"/>
<rect x="1374" y="93.1" width="1" height="37.0" fill="#26a69a"/>
<rect x="1370.57" y="97.9" width="8" height="32.1" fill="#26a69a"/>
<rect x="1384" y="93.1" width="1" height="8.4" fill="#ef5350"/>
<rect x="1380.57" y="97.3" width="8" height="3.4" fill="#ef5350"/>
</g>
<polygon points="5.0,482.5 15.0,482.5 25.0,482.5 35.0,482.5 45.0,483.5 55.0,483.0 65.0,483.0 75.0,483.0 85.0,483.0 95.0,472.1 105.0,471.6 115.0,471.4 125.0,473.4 135.0,475.4 145.0,473.4 155.0,473.4 165.0,456.9 175.0,448.8 185.0,445.6 195.0,444.8 205.0,444.8 215.0,444.8 225.0,444.8 235.0,439.2 245.0,435.4 255.0,434.2 265.0,424.5 275.0,424.5 285.0,418.2 294.9,418.2 304.9,418.2 314.9,421.0 324.9,421.0 334.9,417.7 344.9,417.2 354.9,416.5 364.9,415.7 374.9,422.0 384.9,422.9 394.9,423.9 404.9,417.8 414.9,417.1 424.9,412.8 434.9,410.0 444.9,408.7 454.9,403.1 464.9,401.4 474.9,396.8 484.9,389.7 494.9,389.2 504.9,388.5 514.9,381.6 524.9,379.9 534.9,379.4 544.9,379.1 554.9,374.5 564.9,377.3 574.9,380.4 584.8,384.2 594.8,383.4 604.8,382.4 614.8,381.6 624.8,381.9 634.8,382.1 644.8,382.1 654.8,270.0 664.8,270.0 674.8,270.0 684.8,268.4 694.8,268.4 704.8,268.4 714.8,268.4 724.8,261.6 734.8,254.8 744.8,281.3 754.8,281.1 764.8,280.6 774.8,280.1 784.8,278.8 794.8,273.8 804.8,273.5 814.8,272.5 824.8,270.0 834.8,270.0 844.8,262.1 854.8,249.5 864.7,246.9 874.7,240.9 884.7,240.6 894.7,233.3 904.7,225.7 914.7,207.2 924.7,206.7 934.7,185.2 944.7,173.5 954.7,166.7 964.7,160.4 974.7,159.4 984.7,144.8 994.7,147.0 1004.7,147.5 1014.7,147.5 1024.7,147.5 1034.7,147.5 1044.7,147.5 1054.7,147.5 1064.7,147.9 1074.7,150.4 1084.7,150.4 1094.7,148.1 1104.7,125.3 1114.7,115.2 1124.7,104.6 1134.7,102.5 1144.7,117.7 1154.6,118.2 1164.6,118.2 1174.6,118.2 1184.6,118.2 1194.6,118.2 1204.6,118.2 1214.6,118.2 1224.6,119.0 1234.6,125.3 1244.6,126.6 1254.6,126.6 1264.6,125.3 1274.6,127.1 1284.6,127.1 1294.6,127.1 1304.6,127.1 1314.6,127.1 1324.6,129.9 1334.6,132.9 1344.6,133.4 1354.6,135.4 1364.6,135.4 1374.6,136.2 1384.6,138.5 1384.6,120.2 1374.6,120.2 1364.6,139.2 1354.6,184.3 1344.6,184.3 1334.6,184.3 1324.6,184.3 1314.6,184.3 1304.6,184.3 1294.6,184.3 1284.6,184.3 1274.6,184.3 1264.6,184.3 1254.6,184.8 1244.6,186.6 1234.6,188.6 1224.6,188.6 1214.6,198.2 1204.6,200.0 1194.6,202.5 1184.6,202.5 1174.6,202.5 1164.6,216.4 1154.6,230.8 1144.7,242.5 1134.7,242.5 1124.7,242.5 1114.7,242.5 1104.7,242.5 1094.7,242.5 1084.7,242.5 1074.7,242.5 1064.7,242.5 1054.7,242.5 1044.7,242.5 1034.7,242.5 1024.7,242.5 1014.7,242.5 1004.7,242.1 994.7,242.1 984.7,242.1 974.7,255.8 964.7,255.8 954.7,255.8 944.7,255.8 934.7,259.1 924.7,259.1 914.7,259.6 904.7,271.2 894.7,271.7 884.7,274.3 874.7,274.5 864.7,276.0 854.8,278.1 844.8,278.8 834.8,279.3 824.8,281.1 814.8,281.1 804.8,281.1 794.8,281.1 784.8,281.1 774.8,281.1 764.8,281.1 754.8,281.1 744.8,281.1 734.8,281.1 724.8,281.1 714.8,281.1 704.8,281.1 694.8,281.1 684.8,281.1 674.8,281.1 664.8,282.6 654.8,294.5 644.8,406.4 634.8,406.4 624.8,406.9 614.8,408.2 604.8,410.0 594.8,410.2 584.8,418.3 574.9,418.8 564.9,418.8 554.9,418.8 544.9,418.8 534.9,420.4 524.9,420.9 514.9,439.8 504.9,439.8 494.9,439.8 484.9,441.1 474.9,447.9 464.9,452.0 454.9,452.5 444.9,455.8 434.9,455.8 424.9,455.8 414.9,455.8 404.9,455.8 394.9,455.8 384.9,455.8 374.9,455.7 364.9,455.7 354.9,455.7 344.9,455.7 334.9,455.7 324.9,455.7 314.9,455.7 304.9,455.7 294.9,455.7 285.0,455.7 275.0,461.2 265.0,461.2 255.0,461.2 245.0,461.2 235.0,461.2 225.0,461.2 215.0,461.2 205.0,461.2 195.0,461.2 185.0,461.2 175.0,464.5 165.0,473.4 155.0,474.7 145.0,474.7 135.0,475.2 125.0,475.2 115.0,475.2 105.0,475.2 95.0,475.2 85.0,475.2 75.0,475.2 65.0,475.2 55.0,484.8 45.0,498.7 35.0,499.2 25.0,507.3 15.0,507.8 5.0,508.3" fill="rgba(67,160,71,0.15)"/>
<polyline points="5.0,482.5 15.0,482.5 25.0,482.5 35.0,482.5 45.0,483.5 55.0,483.0 65.0,483.0 75.0,483.0 85.0,483.0 95.0,472.1 105.0,471.6 115.0,471.4 125.0,473.4 135.0,475.4 145.0,473.4 155.0,473.4 165.0,456.9 175.0,448.8 185.0,445.6 195.0,444.8 205.0,444.8 215.0,444.8 225.0,444.8 235.0,439.2 245.0,435.4 255.0,434.2 265.0,424.5 275.0,424.5 285.0,418.2 294.9,418.2 304.9,418.2 314.9,421.0 324.9,421.0 334.9,417.7 344.9,417.2 354.9,416.5 364.9,415.7 374.9,422.0 384.9,422.9 394.9,423.9 404.9,417.8 414.9,417.1 424.9,412.8 434.9,410.0 444.9,408.7 454.9,403.1 464.9,401.4 474.9,396.8 484.9,389.7 494.9,389.2 504.9,388.5 514.9,381.6 524.9,379.9 534.9,379.4 544.9,379.1 554.9,374.5 564.9,377.3 574.9,380.4 584.8,384.2 594.8,383.4 604.8,382.4 614.8,381.6 624.8,381.9 634.8,382.1 644.8,382.1 654.8,270.0 664.8,270.0 674.8,270.0 684.8,268.4 694.8,268.4 704.8,268.4 714.8,268.4 724.8,261.6 734.8,254.8 744.8,281.3 754.8,281.1 764.8,280.6 774.8,280.1 784.8,278.8 794.8,273.8 804.8,273.5 814.8,272.5 824.8,270.0 834.8,270.0 844.8,262.1 854.8,249.5 864.7,246.9 874.7,240.9 884.7,240.6 894.7,233.3 904.7,225.7 914.7,207.2 924.7,206.7 934.7,185.2 944.7,173.5 954.7,166.7 964.7,160.4 974.7,159.4 984.7,144.8 994.7,147.0 1004.7,147.5 1014.7,147.5 1024.7,147.5 1034.7,147.5 1044.7,147.5 1054.7,147.5 1064.7,147.9 1074.7,150.4 1084.7,150.4 1094.7,148.1 1104.7,125.3 1114.7,115.2 1124.7,104.6 1134.7,102.5 1144.7,117.7 1154.6,118.2 1164.6,118.2 1174.6,118.2 1184.6,118.2 1194.6,118.2 1204.6,118.2 1214.6,118.2 1224.6,119.0 1234.6,125.3 1244.6,126.6 1254.6,126.6 1264.6,125.3 1274.6,127.1 1284.6,127.1 1294.6,127.1 1304.6,127.1 1314.6,127.1 1324.6,129.9 1334.6,132.9 1344.6,133.4 1354.6,135.4 1364.6,135.4 1374.6,136.2 1384.6,138.5" fill="none" stroke="rgba(67,160,71,0.75)" stroke-width="1"/>
<polyline points="5.0,508.3 15.0,507.8 25.0,507.3 35.0,499.2 45.0,498.7 55.0,484.8 65.0,475.2 75.0,475.2 85.0,475.2 95.0,475.2 105.0,475.2 115.0,475.2 125.0,475.2 135.0,475.2 145.0,474.7 155.0,474.7 165.0,473.4 175.0,464.5 185.0,461.2 195.0,461.2 205.0,461.2 215.0,461.2 225.0,461.2 235.0,461.2 245.0,461.2 255.0,461.2 265.0,461.2 275.0,461.2 285.0,455.7 294.9,455.7 304.9,455.7 314.9,455.7 324.9,455.7 334.9,455.7 344.9,455.7 354.9,455.7 364.9,455.7 374.9,455.7 384.9,455.8 394.9,455.8 404.9,455.8 414.9,455.8 424.9,455.8 434.9,455.8 444.9,455.8 454.9,452.5 464.9,452.0 474.9,447.9 484.9,441.1 494.9,439.8 504.9,439.8 514.9,439.8 524.9,420.9 534.9,420.4 544.9,418.8 554.9,418.8 564.9,418.8 574.9,418.8 584.8,418.3 594.8,410.2 604.8,410.0 614.8,408.2 624.8,406.9 634.8,406.4 644.8,406.4 654.8,294.5 664.8,282.6 674.8,281.1 684.8,281.1 694.8,281.1 704.8,281.1 714.8,281.1 724.8,281.1 734.8,281.1 744.8,281.1 754.8,281.1 764.8,281.1 774.8,281.1 784.8,281.1 794.8,281.1 804.8,281.1 814.8,281.1 824.8,281.1 834.8,279.3 844.8,278.8 854.8,278.1 864.7,276.0 874.7,274.5 884.7,274.3 894.7,271.7 904.7,271.2 914.7,259.6 924.7,259.1 934.7,259.1 944.7,255.8 954.7,255.8 964.7,255.8 974.7,255.8 984.7,242.1 994.7,242.1 1004.7,242.1 1014.7,242.5 1024.7,242.5 1034.7,242.5 1044.7,242.5 1054.7,242.5 1064.7,242.5 1074.7,242.5 1084.7,242.5 1094.7,242.5 1104.7,242.5 1114.7,242.5 1124.7,242.5 1134.7,242.5 1144.7,242.5 1154.6,230.8 1164.6,216.4 1174.6,202.5 1184.6,202.5 1194.6,202.5 1204.6,200.0 1214.6,198.2 1224.6,188.6 1234.6,188.6 1244.6,186.6 1254.6,184.8 1264.6,184.3 1274.6,184.3 1284.6,184.3 1294.6,184.3 1304.6,184.3 1314.6,184.3 1324.6,184.3 1334.6,184.3 1344.6,184.3 1354.6,184.3 1364.6,139.2 1374.6,120.2 1384.6,120.2" fill="none" stroke="rgba(142,68,173,0.7)" stroke-width="1"/>
<polyline points="-4.9,346.5 5.0,352.3 15.0,348.1 25.0,349.8 35.0,342.5 45.0,375.6 55.0,402.1 65.0,397.4 75.0,391.1 85.0,387.7 95.0,385.7 105.0,383.2 115.0,386.4 125.0,358.2 135.0,327.0 145.0,334.9 155.0,333.7 165.0,339.6 175.0,328.2 185.0,292.1 195.0,284.1 205.0,309.8 215.0,284.1 225.0,260.9 235.0,251.6 245.0,260.9 255.0,263.7 265.0,287.5 275.0,282.0 285.0,271.5 294.9,265.4 304.9,264.2 314.9,258.8 324.9,216.9 334.9,170.0 344.9,150.4 354.9,129.3 364.9,131.8 374.9,115.8 384.9,119.2 394.9,127.1 404.9,117.0 414.9,104.3 424.9,114.6 434.9,106.2 444.9,110.7 454.9,119.7 464.9,127.1 474.9,151.7 484.9,138.2 494.9,133.2 504.9,130.5 514.9,117.8 524.9,121.7 534.9,89.1 544.9,108.2 554.9,104.8 564.9,101.5 574.9,98.1 584.8,95.0 594.8,101.8 604.8,91.0 614.8,68.2 624.8,115.8 634.8,139.4 644.8,133.2 654.8,149.5 664.8,140.3 674.8,131.0 684.8,130.1 694.8,126.8 704.8,123.4 714.8,122.2 724.8,129.8 734.8,135.2 744.8,146.2 754.8,138.2 764.8,128.5 774.8,147.5 784.8,148.7 794.8,150.7 804.8,154.1 814.8,176.9 824.8,165.2 834.8,152.9 844.8,162.2 854.8,144.1 864.7,137.4 874.7,131.5 884.7,142.0 894.7,136.9 904.7,146.2 914.7,126.8 924.7,116.3 934.7,117.5 944.7,110.7 954.7,109.1 964.7,113.8 974.7,102.0 984.7,106.6 994.7,89.2 1004.7,95.6 1014.7,94.2 1024.7,79.1 1034.7,78.2 1044.7,70.6 1054.7,96.8 1064.7,117.9 1074.7,113.1 1084.7,108.9 1094.7,131.7 1104.7,114.1 1114.7,97.9 1124.7,100.6" fill="none" stroke="rgba(38,130,130,0.62)" stroke-width="1.2" stroke-linejoin="round"/>
<polyline points="5.0,407.9 15.0,408.5 25.0,402.6 35.0,402.6 45.0,402.6 55.0,409.0 65.0,409.0 75.0,409.0 85.0,409.0 95.0,409.0 105.0,409.0 115.0,422.0 125.0,422.5 135.0,425.3 145.0,424.5 155.0,423.3 165.0,413.5 175.0,409.3 185.0,407.6 195.0,399.2 205.0,395.8 215.0,390.7 225.0,384.5 235.0,384.5 245.0,384.0 255.0,369.6 265.0,368.3 275.0,365.8 285.0,364.6 294.9,355.7 304.9,363.3 314.9,370.9 324.9,377.1 334.9,377.1 344.9,377.1 354.9,377.1 364.9,377.6 374.9,380.6 384.9,380.6 394.9,268.5 404.9,268.5 414.9,268.5 424.9,268.5 434.9,268.5 444.9,268.5 454.9,268.5 464.9,255.0 474.9,241.5 484.9,295.5 494.9,294.6 504.9,293.3 514.9,291.2 524.9,288.7 534.9,282.5 544.9,279.4 554.9,277.2 564.9,273.0 574.9,270.0 584.8,254.9 594.8,230.4 604.8,225.3 614.8,213.5 624.8,213.5 634.8,211.0 644.8,210.1 654.8,198.0 664.8,198.0 674.8,157.1 684.8,135.2 694.8,121.2 704.8,117.5 714.8,115.8 724.8,103.1 734.8,110.5 744.8,110.5 754.8,110.5 764.8,110.5 774.8,110.5 784.8,110.5 794.8,110.5 804.8,110.5 814.8,118.3 824.8,115.0 834.8,114.1 844.8,110.2 854.8,109.6 864.7,100.6 874.7,94.2 884.7,118.3 894.7,118.3 904.7,118.3 914.7,118.3 924.7,118.3 934.7,118.3 944.7,118.3 954.7,118.3 964.7,118.3 974.7,134.4 984.7,135.7 994.7,135.7 1004.7,135.7 1014.7,135.7 1024.7,135.7 1034.7,135.7 1044.7,135.7 1054.7,136.0 1064.7,139.4 1074.7,143.3 1084.7,143.3 1094.7,148.4 1104.7,148.4 1114.7,151.2 1124.7,154.1 1134.7,154.1 1144.7,154.1 1154.6,150.1 1164.6,150.1 1174.6,136.0 1184.6,126.8 1194.6,125.9 1204.6,125.1 1214.6,125.1 1224.6,125.1 1234.6,124.2 1244.6,121.2 1254.6,119.2 1264.6,107.4 1274.6,105.2 1284.6,89.2 1294.6,85.0 1304.6,85.0 1314.6,83.8 1324.6,95.9 1334.6,95.9 1344.6,95.9 1354.6,95.9 1364.6,95.9 1374.6,102.7 1384.6,101.8" fill="none" stroke="rgba(255,50,50,0.85)" stroke-width="1.05" stroke-linejoin="round"/>
<polyline points="5.0,441.7 15.0,441.7 25.0,434.6 35.0,434.6 45.0,434.6 55.0,434.6 65.0,434.6 75.0,425.7 85.0,425.7 95.0,425.5 105.0,425.3 115.0,424.8 125.0,424.1 135.0,423.1 145.0,411.0 155.0,409.0 165.0,409.0 175.0,409.0 185.0,409.0 195.0,405.9 205.0,405.9 215.0,401.7 225.0,394.5 235.0,393.6 245.0,393.6 255.0,393.6 265.0,393.3 275.0,393.3 285.0,393.3 294.9,393.3 304.9,393.3 314.9,392.0 324.9,391.1 334.9,389.4 344.9,388.1 354.9,386.9 364.9,385.7 374.9,384.4 384.9,383.5 394.9,271.5 404.9,271.5 414.9,271.5 424.9,268.5 434.9,268.5 444.9,268.5 454.9,268.5 464.9,268.5 474.9,268.5 484.9,268.5 494.9,268.5 504.9,268.5 514.9,268.5 524.9,268.5 534.9,268.5 544.9,268.5 554.9,268.5 564.9,268.5 574.9,268.5 584.8,268.5 594.8,268.5 604.8,268.5 614.8,268.5 624.8,268.4 634.8,256.5 644.8,241.4 654.8,216.4 664.8,216.0 674.8,216.0 684.8,214.4 694.8,212.2 704.8,201.7 714.8,201.7 724.8,185.8 734.8,184.1 744.8,184.1 754.8,184.1 764.8,184.1 774.8,184.1 784.8,184.1 794.8,184.1 804.8,184.5 814.8,184.5 824.8,184.5 834.8,184.5 844.8,142.0 854.8,120.9 864.7,110.2 874.7,110.2 884.7,117.0 894.7,117.0 904.7,117.0 914.7,117.0 924.7,117.0 934.7,117.0 944.7,117.0 954.7,117.0 964.7,117.0 974.7,117.0 984.7,118.2 994.7,118.2 1004.7,118.2 1014.7,118.2 1024.7,118.2 1034.7,118.2 1044.7,118.2 1054.7,118.2 1064.7,118.2 1074.7,122.4 1084.7,122.4 1094.7,122.4 1104.7,122.4 1114.7,122.4 1124.7,122.4 1134.7,122.4 1144.7,143.6 1154.6,144.1 1164.6,144.1 1174.6,143.3 1184.6,133.9 1194.6,133.9 1204.6,133.9 1214.6,133.9 1224.6,133.9 1234.6,133.9 1244.6,133.0 1254.6,132.2 1264.6,131.4 1274.6,131.4 1284.6,116.0 1294.6,116.0 1304.6,116.0 1314.6,116.0 1324.6,116.0 1334.6,116.0 1344.6,108.6 1354.6,108.1 1364.6,107.7 1374.6,107.2 1384.6,107.2" fill="none" stroke="rgba(40,40,255,0.75)" stroke-width="1" stroke-linejoin="round"/>
<polyline points="5.0,400.0 15.0,400.9 25.0,402.6 35.0,402.9 45.0,404.2 55.0,407.6 65.0,410.1 75.0,413.5 85.0,417.7 95.0,422.0 105.0,423.6 115.0,424.1 125.0,426.2 135.0,425.8 145.0,424.5 155.0,423.6 165.0,418.6 175.0,413.5 185.0,408.5 195.0,403.4 205.0,399.2 215.0,393.3 225.0,384.8 235.0,375.6 245.0,367.1 255.0,361.2 265.0,360.7 275.0,354.8 285.0,351.5 294.9,348.9 304.9,350.1 314.9,355.7 324.9,360.7 334.9,366.6 344.9,371.7 354.9,375.9 364.9,379.3 374.9,383.5 384.9,384.4 394.9,379.3 404.9,371.7 414.9,365.0 424.9,358.2 434.9,353.1 444.9,342.2 454.9,331.2 464.9,323.3 474.9,315.7 484.9,308.1 494.9,298.0 504.9,289.5 514.9,281.1 524.9,277.4 534.9,276.0 544.9,274.9 554.9,271.5 564.9,268.5 574.9,268.4 584.8,262.4 594.8,253.2 604.8,240.5 614.8,221.1 624.8,203.4 634.8,189.2 644.8,171.5 654.8,156.3 664.8,143.6 674.8,131.0 684.8,123.4 694.8,118.3 704.8,116.3 714.8,115.0 724.8,115.8 734.8,119.2 744.8,120.9 754.8,123.4 764.8,125.9 774.8,126.8 784.8,128.5 794.8,125.1 804.8,123.4 814.8,120.9 824.8,115.8 834.8,112.4 844.8,108.2 854.8,104.8 864.7,100.6 874.7,95.2 884.7,97.6 894.7,101.5 904.7,106.0 914.7,110.7 924.7,115.5 934.7,118.3 944.7,121.7 954.7,126.8 964.7,132.2 974.7,133.2 984.7,132.7 994.7,132.3 1004.7,131.8 1014.7,131.5 1024.7,131.5 1034.7,133.5 1044.7,136.0 1054.7,138.6 1064.7,142.5 1074.7,147.0 1084.7,150.4 1094.7,152.1 1104.7,154.1 1114.7,154.6 1124.7,153.8 1134.7,152.6 1144.7,151.7 1154.6,149.2 1164.6,146.2 1174.6,142.8 1184.6,136.0 1194.6,132.7 1204.6,129.3 1214.6,126.3 1224.6,124.2 1234.6,119.2 1244.6,116.2 1254.6,110.3 1264.6,106.9 1274.6,104.4 1284.6,100.1 1294.6,96.8 1304.6,92.2 1314.6,89.7 1324.6,91.7 1334.6,92.6 1344.6,95.1 1354.6,98.5 1364.6,101.0 1374.6,103.5 1384.6,106.0" fill="none" stroke="rgba(33,150,243,0.95)" stroke-width="1.05" stroke-linejoin="round"/>
</g>
<line x1="635" y1="-3.5" x2="635" y2="553" stroke="#98a0ae" stroke-width="1.4" stroke-dasharray="4.2,5.77"/>
<line x1="635" y1="554.2" x2="635" y2="832" stroke="#98a0ae" stroke-width="1.4" stroke-dasharray="4.3,5.6"/>
<rect x="0" y="553" width="1541" height="1" fill="#4a4e59" shape-rendering="crispEdges"/>
<g clip-path="url(#p2)">
<rect x="0" y="639.8" width="1494" height="169.0" fill="rgba(160,32,240,0.1)"/>
<line x1="0.2" y1="639.8" x2="1494" y2="639.8" stroke="#d6d1d9" stroke-width="1.3" stroke-dasharray="4.5,5.4"/>
<line x1="0.2" y1="808.8" x2="1494" y2="808.8" stroke="#d6d1d9" stroke-width="1.3" stroke-dasharray="4.5,5.4"/>
<line x1="0.2" y1="597.5" x2="1494" y2="597.5" stroke="#6f7889" stroke-width="1.1" stroke-dasharray="4.6,5.3"/>
<line x1="0" y1="619.4" x2="235" y2="620.2" stroke="#ff5252" stroke-width="1.6" stroke-opacity="0.85"/>
<line x1="0" y1="642.1" x2="1284" y2="644.3" stroke="#f23645" stroke-width="1.8" stroke-opacity="0.8"/>
<line x1="0" y1="666.9" x2="1494.5" y2="612.3" stroke="#ff3b3b" stroke-width="1.8" stroke-opacity="0.8"/>
<line x1="0" y1="704.1" x2="1424" y2="685.9" stroke="#f23645" stroke-width="1.8" stroke-opacity="0.8"/>
<line x1="0" y1="780" x2="1074.4" y2="746.2" stroke="#6d8f5e" stroke-width="2" stroke-opacity="0.7"/>
<line x1="315.4" y1="756.8" x2="894" y2="658.3" stroke="#6d8f5e" stroke-width="2" stroke-opacity="0.7"/>
<line x1="635.4" y1="581.4" x2="1403.6" y2="649.2" stroke="#4f7f3a" stroke-width="2" stroke-opacity="0.8"/>
<line x1="635.4" y1="581.4" x2="1204.2" y2="700.6" stroke="#6aa84f" stroke-width="2" stroke-opacity="0.7"/>
<line x1="1075.4" y1="785.5" x2="1444" y2="745.9" stroke="#55774a" stroke-width="2" stroke-opacity="0.8"/>
<polyline points="5.0,658.6 15.0,666.2 25.0,697.0 35.0,696.0 45.0,723.1 55.0,728.2 65.0,749.7 75.0,730.7 85.0,745.9 95.0,731.2 105.0,712.5 115.0,703.4 125.0,716.0 135.0,708.7 145.0,716.3 155.0,717.3 165.0,672.5 175.0,661.9 185.0,680.6 195.0,657.3 205.0,655.5 215.0,643.9 225.0,633.3 235.0,628.7 245.0,621.9 255.0,639.6 265.0,656.0 275.0,651.0 285.0,652.8 294.9,644.7 304.9,715.5 314.9,756.8 324.9,749.2 334.9,739.1 344.9,732.0 354.9,727.4 364.9,724.4 374.9,729.9 384.9,681.4 394.9,650.2 404.9,664.1 414.9,662.4 424.9,673.3 434.9,659.8 444.9,628.2 454.9,622.4 464.9,668.2 474.9,647.2 484.9,631.2 494.9,625.7 504.9,640.1 514.9,645.9 524.9,680.9 534.9,676.3 544.9,666.9 554.9,661.6 564.9,659.8 574.9,655.3 584.8,623.1 594.8,597.8 604.8,590.8 614.8,583.9 624.8,587.7 634.8,581.4 644.8,587.2 654.8,602.1 664.8,597.3 674.8,592.0 684.8,610.0 694.8,605.9 704.8,614.8 714.8,631.5 724.8,643.9 734.8,685.2 744.8,673.0 754.8,667.4 764.8,665.4 774.8,653.5 784.8,658.6 794.8,632.0 804.8,664.1 814.8,660.6 824.8,658.6 834.8,654.8 844.8,652.3 854.8,664.4 864.7,652.3 874.7,632.5 884.7,706.7 894.7,735.8 904.7,728.2 914.7,744.6 924.7,734.0 934.7,723.1 944.7,721.8 954.7,717.5 964.7,714.3 974.7,712.5 984.7,723.6 994.7,732.0 1004.7,747.9 1014.7,733.2 1024.7,719.3 1034.7,747.7 1044.7,748.4 1054.7,751.0 1064.7,757.3 1074.7,785.1 1084.7,761.1 1094.7,741.6 1104.7,754.0 1114.7,724.4 1124.7,715.0 1134.7,706.9 1144.7,722.6 1154.6,715.5 1164.6,731.0 1174.6,701.1 1184.6,687.2 1194.6,689.7 1204.6,681.4 1214.6,678.3 1224.6,689.2 1234.6,672.0 1244.6,681.4 1254.6,658.6 1264.6,672.3 1274.6,672.0 1284.6,651.0 1294.6,650.0 1304.6,640.9 1314.6,697.3 1324.6,734.0 1334.6,726.9 1344.6,719.6 1354.6,754.3 1364.6,723.9 1374.6,704.4 1384.6,709.2" fill="none" stroke="#a845c0" stroke-width="1.25" stroke-linejoin="round"/>
</g>
<line x1="1300.5" y1="29.3" x2="1303.9" y2="54.3" stroke="#ff0000" stroke-width="2.8" stroke-linecap="round"/>
<polygon points="1305.5,66.4 1299.1,52.9 1308.1,51.7" fill="#ff0000"/>
<line x1="625.5" y1="537.7" x2="635.7" y2="559.1" stroke="#ff0000" stroke-width="2.8" stroke-linecap="round"/>
<polygon points="640.5,569.0 630.8,559.2 638.9,555.3" fill="#ff0000"/>
<line x1="1296.5" y1="584.6" x2="1297.8" y2="607.0" stroke="#ff0000" stroke-width="2.8" stroke-linecap="round"/>
<polygon points="1298.5,619.2 1293.2,605.3 1302.2,604.8" fill="#ff0000"/>
<rect x="1494" y="0" width="47" height="842" fill="#fff"/>
<rect x="1494" y="0" width="1" height="842" fill="#4a4e59" shape-rendering="crispEdges"/>
<rect x="1495" y="498" width="3.5" height="1" fill="#6a6d78"/>
<text x="1502.4" y="502.4" font-size="11" fill="#555861" textLength="32" lengthAdjust="spacingAndGlyphs">198.00</text>
<rect x="1495" y="306" width="3.5" height="1" fill="#6a6d78"/>
<text x="1502.4" y="310.4" font-size="11" fill="#555861" textLength="32" lengthAdjust="spacingAndGlyphs">204.00</text>
<rect x="1495" y="274" width="3.5" height="1" fill="#6a6d78"/>
<text x="1502.4" y="278.4" font-size="11" fill="#555861" textLength="32" lengthAdjust="spacingAndGlyphs">205.00</text>
<rect x="1495" y="242" width="3.5" height="1" fill="#6a6d78"/>
<text x="1502.4" y="246.4" font-size="11" fill="#555861" textLength="32" lengthAdjust="spacingAndGlyphs">206.00</text>
<rect x="1495" y="210" width="3.5" height="1" fill="#6a6d78"/>
<text x="1502.4" y="214.4" font-size="11" fill="#555861" textLength="32" lengthAdjust="spacingAndGlyphs">207.00</text>
<rect x="1495" y="114" width="3.5" height="1" fill="#6a6d78"/>
<text x="1502.4" y="118.4" font-size="11" fill="#555861" textLength="32" lengthAdjust="spacingAndGlyphs">210.00</text>
<rect x="1495" y="82" width="3.5" height="1" fill="#6a6d78"/>
<text x="1502.4" y="86.4" font-size="11" fill="#555861" textLength="32" lengthAdjust="spacingAndGlyphs">211.00</text>
<rect x="1495" y="50" width="3.5" height="1" fill="#6a6d78"/>
<text x="1502.4" y="54.4" font-size="11" fill="#555861" textLength="32" lengthAdjust="spacingAndGlyphs">212.00</text>
<rect x="1495" y="18" width="3.5" height="1" fill="#6a6d78"/>
<text x="1502.4" y="22.4" font-size="11" fill="#555861" textLength="32" lengthAdjust="spacingAndGlyphs">213.00</text>
<rect x="1494" y="62" width="47" height="16" fill="#38761d" shape-rendering="crispEdges"/>
<rect x="1495" y="70" width="4" height="1" fill="#fff" fill-opacity="0.8" shape-rendering="crispEdges"/>
<text x="1502.4" y="74.1" font-size="11" font-weight="bold" fill="#fff" textLength="32" lengthAdjust="spacingAndGlyphs">211.38</text>
<rect x="1494" y="93" width="47" height="16" fill="#ef5350" shape-rendering="crispEdges"/>
<rect x="1495" y="100" width="4" height="1" fill="#fff" fill-opacity="0.8" shape-rendering="crispEdges"/>
<text x="1502.4" y="105.0" font-size="11" font-weight="bold" fill="#fff" textLength="32" lengthAdjust="spacingAndGlyphs">210.41</text>
<rect x="1504" y="110.7" width="37" height="16.3" fill="#ef5350"/>
<text x="1508.6" y="123" font-size="11" font-weight="bold" fill="#fff" textLength="26" lengthAdjust="spacingAndGlyphs">10:17</text>
<rect x="1494" y="127" width="47" height="15" fill="#6aa84f" shape-rendering="crispEdges"/>
<rect x="1495" y="134" width="4" height="1" fill="#fff" fill-opacity="0.8" shape-rendering="crispEdges"/>
<text x="1502.4" y="138.7" font-size="11" font-weight="bold" fill="#fff" textLength="32" lengthAdjust="spacingAndGlyphs">210.25</text>
<rect x="1494" y="142" width="47" height="16" fill="#6aa84f" shape-rendering="crispEdges"/>
<rect x="1495" y="150" width="4" height="1" fill="#fff" fill-opacity="0.8" shape-rendering="crispEdges"/>
<text x="1502.4" y="154.3" font-size="11" font-weight="bold" fill="#fff" textLength="32" lengthAdjust="spacingAndGlyphs">209.70</text>
<rect x="1494" y="158" width="47" height="16" fill="#38761d" shape-rendering="crispEdges"/>
<rect x="1495" y="166" width="4" height="1" fill="#fff" fill-opacity="0.8" shape-rendering="crispEdges"/>
<text x="1502.4" y="170.3" font-size="11" font-weight="bold" fill="#fff" textLength="32" lengthAdjust="spacingAndGlyphs">208.87</text>
<rect x="1494" y="174" width="47" height="17" fill="#38761d" shape-rendering="crispEdges"/>
<rect x="1495" y="182" width="4" height="1" fill="#fff" fill-opacity="0.8" shape-rendering="crispEdges"/>
<text x="1502.4" y="186.5" font-size="11" font-weight="bold" fill="#fff" textLength="32" lengthAdjust="spacingAndGlyphs">208.04</text>
<rect x="1494" y="243" width="47" height="18" fill="#6aa84f" shape-rendering="crispEdges"/>
<rect x="1495" y="252" width="4" height="1" fill="#fff" fill-opacity="0.8" shape-rendering="crispEdges"/>
<text x="1502.4" y="256.0" font-size="11" font-weight="bold" fill="#fff" textLength="32" lengthAdjust="spacingAndGlyphs">205.70</text>
<rect x="1494" y="332" width="47" height="17" fill="#6aa84f" shape-rendering="crispEdges"/>
<rect x="1495" y="340" width="4" height="1" fill="#fff" fill-opacity="0.8" shape-rendering="crispEdges"/>
<text x="1502.4" y="344.5" font-size="11" font-weight="bold" fill="#fff" textLength="32" lengthAdjust="spacingAndGlyphs">202.95</text>
<rect x="1494" y="348" width="47" height="17" fill="#6aa84f" shape-rendering="crispEdges"/>
<rect x="1495" y="356" width="4" height="1" fill="#fff" fill-opacity="0.8" shape-rendering="crispEdges"/>
<text x="1502.4" y="360.6" font-size="11" font-weight="bold" fill="#fff" textLength="32" lengthAdjust="spacingAndGlyphs">202.48</text>
<rect x="1494" y="364" width="47" height="17" fill="#6aa84f" shape-rendering="crispEdges"/>
<rect x="1495" y="372" width="4" height="1" fill="#fff" fill-opacity="0.8" shape-rendering="crispEdges"/>
<text x="1502.4" y="376.8" font-size="11" font-weight="bold" fill="#fff" textLength="32" lengthAdjust="spacingAndGlyphs">201.95</text>
<rect x="1494" y="381" width="47" height="16" fill="#6aa84f" shape-rendering="crispEdges"/>
<rect x="1495" y="388" width="4" height="1" fill="#fff" fill-opacity="0.8" shape-rendering="crispEdges"/>
<text x="1502.4" y="392.9" font-size="11" font-weight="bold" fill="#fff" textLength="32" lengthAdjust="spacingAndGlyphs">201.56</text>
<rect x="1494" y="397" width="47" height="16" fill="#6aa84f" shape-rendering="crispEdges"/>
<rect x="1495" y="405" width="4" height="1" fill="#fff" fill-opacity="0.8" shape-rendering="crispEdges"/>
<text x="1502.4" y="409.1" font-size="11" font-weight="bold" fill="#fff" textLength="32" lengthAdjust="spacingAndGlyphs">200.98</text>
<rect x="1494" y="413" width="47" height="17" fill="#6aa84f" shape-rendering="crispEdges"/>
<rect x="1495" y="421" width="4" height="1" fill="#fff" fill-opacity="0.8" shape-rendering="crispEdges"/>
<text x="1502.4" y="425.2" font-size="11" font-weight="bold" fill="#fff" textLength="32" lengthAdjust="spacingAndGlyphs">200.51</text>
<rect x="1494" y="429" width="47" height="17" fill="#6aa84f" shape-rendering="crispEdges"/>
<rect x="1495" y="437" width="4" height="1" fill="#fff" fill-opacity="0.8" shape-rendering="crispEdges"/>
<text x="1502.4" y="441.4" font-size="11" font-weight="bold" fill="#fff" textLength="32" lengthAdjust="spacingAndGlyphs">200.34</text>
<rect x="1494" y="445" width="47" height="17" fill="#6aa84f" shape-rendering="crispEdges"/>
<rect x="1495" y="453" width="4" height="1" fill="#fff" fill-opacity="0.8" shape-rendering="crispEdges"/>
<text x="1502.4" y="457.5" font-size="11" font-weight="bold" fill="#fff" textLength="32" lengthAdjust="spacingAndGlyphs">199.82</text>
<rect x="1494" y="461" width="47" height="17" fill="#6aa84f" shape-rendering="crispEdges"/>
<rect x="1495" y="469" width="4" height="1" fill="#fff" fill-opacity="0.8" shape-rendering="crispEdges"/>
<text x="1502.4" y="473.7" font-size="11" font-weight="bold" fill="#fff" textLength="32" lengthAdjust="spacingAndGlyphs">199.43</text>
<rect x="1494" y="478" width="47" height="16" fill="#6aa84f" shape-rendering="crispEdges"/>
<rect x="1495" y="485" width="4" height="1" fill="#fff" fill-opacity="0.8" shape-rendering="crispEdges"/>
<text x="1502.4" y="489.9" font-size="11" font-weight="bold" fill="#fff" textLength="32" lengthAdjust="spacingAndGlyphs">199.09</text>
<rect x="1494" y="516" width="47" height="17" fill="#6aa84f" shape-rendering="crispEdges"/>
<rect x="1495" y="524" width="4" height="1" fill="#fff" fill-opacity="0.8" shape-rendering="crispEdges"/>
<text x="1502.4" y="528.6" font-size="11" font-weight="bold" fill="#fff" textLength="32" lengthAdjust="spacingAndGlyphs">197.19</text>
<rect x="1494" y="529" width="47" height="24" fill="#6aa84f" shape-rendering="crispEdges"/>
<rect x="1495" y="540" width="4" height="1" fill="#fff" fill-opacity="0.8" shape-rendering="crispEdges"/>
<text x="1502.4" y="545.0" font-size="11" font-weight="bold" fill="#fff" textLength="32" lengthAdjust="spacingAndGlyphs">197.00</text>
<rect x="1504.5" y="2.5" width="28" height="16.5" rx="3" fill="#fff" stroke="#d1d4dc" stroke-width="1"/>
<text x="1509" y="15" font-size="10.5" fill="#131722" textLength="19" lengthAdjust="spacingAndGlyphs">RUB</text>
<rect x="1495" y="554" width="46" height="288" fill="#fff"/>
<rect x="1494" y="553" width="47" height="1" fill="#4a4e59" shape-rendering="crispEdges"/>
<clipPath id="p3"><rect x="1494" y="554" width="47" height="289"/></clipPath>
<g clip-path="url(#p3)">
<rect x="1495" y="555" width="3.5" height="1" fill="#6a6d78"/>
<text x="1502.4" y="559.3" font-size="11" fill="#555861" textLength="26.3" lengthAdjust="spacingAndGlyphs">90.00</text>
<rect x="1495" y="639" width="3.5" height="1" fill="#6a6d78"/>
<text x="1502.4" y="643.8" font-size="11" fill="#555861" textLength="26.3" lengthAdjust="spacingAndGlyphs">70.00</text>
<rect x="1495" y="682" width="3.5" height="1" fill="#6a6d78"/>
<text x="1502.4" y="686.0" font-size="11" fill="#555861" textLength="26.3" lengthAdjust="spacingAndGlyphs">60.00</text>
<rect x="1495" y="724" width="3.5" height="1" fill="#6a6d78"/>
<text x="1502.4" y="728.3" font-size="11" fill="#555861" textLength="26.3" lengthAdjust="spacingAndGlyphs">50.00</text>
<rect x="1495" y="766" width="3.5" height="1" fill="#6a6d78"/>
<text x="1502.4" y="770.5" font-size="11" fill="#555861" textLength="26.3" lengthAdjust="spacingAndGlyphs">40.00</text>
<rect x="1495" y="808" width="3.5" height="1" fill="#6a6d78"/>
<text x="1502.4" y="812.8" font-size="11" fill="#555861" textLength="26.3" lengthAdjust="spacingAndGlyphs">30.00</text>
</g>
<rect x="1476.3" y="589.4" width="16.6" height="16.3" fill="#4c525e"/>
<path d="M1479.6 597.6H1489.6M1484.6 592.6V602.6" stroke="#fff" stroke-width="1.2" fill="none"/>
<rect x="1494" y="589.4" width="43" height="16.3" fill="#4c525e"/>
<rect x="1495" y="597" width="4" height="1" fill="#fff" fill-opacity="0.8" shape-rendering="crispEdges"/>
<text x="1502.4" y="601.7" font-size="11" font-weight="bold" fill="#fff" textLength="27" lengthAdjust="spacingAndGlyphs">80.01</text>
<rect x="1425.6" y="559.6" width="18.5" height="18.8" rx="3" fill="#fff" stroke="#d5d8e0" stroke-width="1"/>
<path d="M1434.85 573.3V565M1431.25 568.4L1434.85 564.7L1438.4499999999998 568.4" stroke="#2a2e39" stroke-width="1.1" fill="none"/>
<rect x="1448.6" y="559.6" width="18.5" height="18.8" rx="3" fill="#fff" stroke="#d5d8e0" stroke-width="1"/>
<path d="M1453.85 565L1461.85 573M1461.85 565L1453.85 573" stroke="#2a2e39" stroke-width="1.1" fill="none"/>
<rect x="1471.5" y="559.6" width="18.5" height="18.8" rx="3" fill="#fff" stroke="#d5d8e0" stroke-width="1"/>
<path d="M1476.45 567V566a1.5 1.5 0 0 1 1.5 -1.5H1483.55a1.5 1.5 0 0 1 1.5 1.5V567M1476.45 571V572a1.5 1.5 0 0 0 1.5 1.5H1483.55a1.5 1.5 0 0 0 1.5 -1.5V571" stroke="#2a2e39" stroke-width="1.1" fill="none"/>
<rect x="0" y="832" width="1541" height="10" fill="#fff"/>
<rect x="0" y="832" width="1541" height="1" fill="#4a4e59" shape-rendering="crispEdges"/>
<rect x="1494" y="832" width="1" height="10" fill="#4a4e59" shape-rendering="crispEdges"/>
<rect x="25" y="832" width="1" height="4" fill="#4a4e59" shape-rendering="crispEdges"/>
<text x="25.5" y="849.2" font-size="11" fill="#555861" fill-opacity="0.45" text-anchor="middle">28</text>
<rect x="165" y="832" width="1" height="4" fill="#4a4e59" shape-rendering="crispEdges"/>
<text x="165.5" y="849.2" font-size="11" fill="#555861" fill-opacity="0.45" text-anchor="middle">29</text>
<rect x="305" y="832" width="1" height="4" fill="#4a4e59" shape-rendering="crispEdges"/>
<text x="305.5" y="849.2" font-size="11" fill="#555861" fill-opacity="0.45" text-anchor="middle">30</text>
<rect x="445" y="832" width="1" height="4" fill="#4a4e59" shape-rendering="crispEdges"/>
<text x="445.5" y="849.2" font-size="11" fill="#555861" fill-opacity="0.45" text-anchor="middle">31</text>
<rect x="584" y="832" width="1" height="4" fill="#4a4e59" shape-rendering="crispEdges"/>
<text x="584.5" y="849.2" font-size="11" fill="#555861" fill-opacity="0.45" text-anchor="middle">Авг</text>
<rect x="725" y="832" width="1" height="4" fill="#4a4e59" shape-rendering="crispEdges"/>
<text x="725.5" y="849.2" font-size="11" fill="#555861" fill-opacity="0.45" text-anchor="middle">4</text>
<rect x="864" y="832" width="1" height="4" fill="#4a4e59" shape-rendering="crispEdges"/>
<text x="864.5" y="849.2" font-size="11" fill="#555861" fill-opacity="0.45" text-anchor="middle">5</text>
<rect x="1004" y="832" width="1" height="4" fill="#4a4e59" shape-rendering="crispEdges"/>
<text x="1004.5" y="849.2" font-size="11" fill="#555861" fill-opacity="0.45" text-anchor="middle">6</text>
<rect x="1144" y="832" width="1" height="4" fill="#4a4e59" shape-rendering="crispEdges"/>
<text x="1144.5" y="849.2" font-size="11" fill="#555861" fill-opacity="0.45" text-anchor="middle">7</text>
<rect x="1284" y="832" width="1" height="4" fill="#4a4e59" shape-rendering="crispEdges"/>
<text x="1284.5" y="849.2" font-size="11" fill="#555861" fill-opacity="0.45" text-anchor="middle">10</text>
<rect x="1424" y="832" width="1" height="4" fill="#4a4e59" shape-rendering="crispEdges"/>
<text x="1424.5" y="849.2" font-size="11" fill="#555861" fill-opacity="0.45" text-anchor="middle">11</text>
<rect x="588" y="832" width="94.5" height="10" fill="#4c525e"/>
<line x1="635.5" y1="832" x2="635.5" y2="836" stroke="#b2b5be" stroke-width="1" shape-rendering="crispEdges"/>
<text x="592.5" y="846.9" font-size="11" font-weight="bold" fill="#fff" textLength="84.6" lengthAdjust="spacingAndGlyphs" style="white-space:pre">03 Авг '20  15:00</text>
<text x="1518.2" y="850.6" font-size="16" fill="#131722" text-anchor="middle">⚙</text>
<rect x="4" y="2" width="680" height="22" fill="#fff" fill-opacity="0.7"/>
<rect x="4" y="24" width="140" height="25" fill="#fff" fill-opacity="0.7"/>
<text x="8.4" y="17.2" font-size="14" fill="#4a4e59" textLength="254" lengthAdjust="spacingAndGlyphs">СБЕРБАНК РОССИИ ПАО АП · 1Ч · MOEX</text>
<path d="M286.4 3.1H295.9V19.9H286.4A8.4 8.4 0 0 1 286.4 3.1Z" fill="#26a69a" fill-opacity="0.16"/>
<path d="M295.9 3.1H305.7A8.4 8.4 0 0 1 305.7 19.9H295.9Z" fill="#e91e63" fill-opacity="0.2"/>
<circle cx="287.9" cy="11.4" r="3.7" fill="#089888"/>
<text x="304" y="16.3" font-size="15" fill="#d0165a" text-anchor="middle" font-weight="bold">≈</text>
<text x="329" y="17" font-size="12.5" fill="#4a4e59" textLength="29" lengthAdjust="spacingAndGlyphs">ОТКР</text>
<text x="358" y="17" font-size="12.5" fill="#26a69a" textLength="35" lengthAdjust="spacingAndGlyphs">209.45</text>
<text x="399" y="17" font-size="12.5" fill="#4a4e59" textLength="30" lengthAdjust="spacingAndGlyphs">МАКС</text>
<text x="429" y="17" font-size="12.5" fill="#26a69a" textLength="35" lengthAdjust="spacingAndGlyphs">209.96</text>
<text x="470" y="17" font-size="12.5" fill="#4a4e59" textLength="24.5" lengthAdjust="spacingAndGlyphs">МИН</text>
<text x="494.5" y="17" font-size="12.5" fill="#26a69a" textLength="35" lengthAdjust="spacingAndGlyphs">209.10</text>
<text x="536" y="17" font-size="12.5" fill="#4a4e59" textLength="26.5" lengthAdjust="spacingAndGlyphs">ЗАКР</text>
<text x="562.5" y="17" font-size="12.5" fill="#26a69a" textLength="35" lengthAdjust="spacingAndGlyphs">209.95</text>
<text x="603.5" y="17" font-size="12.5" fill="#26a69a" textLength="75.5" lengthAdjust="spacingAndGlyphs">+0.50 (+0.24%)</text>
<rect x="8.5" y="26.5" width="48" height="20" rx="3" fill="#fff" stroke="#ef5350" stroke-width="1"/>
<text x="15.5" y="41.3" font-size="13" fill="#ef5350" textLength="34.5" lengthAdjust="spacingAndGlyphs">210.00</text>
<text x="64.2" y="40" font-size="9.6" fill="#4a4e59" textLength="19.3" lengthAdjust="spacingAndGlyphs">0.00</text>
<rect x="91.5" y="26.5" width="48" height="20" rx="3" fill="#fff" stroke="#2196f3" stroke-width="1"/>
<text x="98.5" y="41.3" font-size="13" fill="#2196f3" textLength="34.5" lengthAdjust="spacingAndGlyphs">210.00</text>
<rect x="4" y="57" width="331" height="16" fill="#fff" fill-opacity="0.6"/>
<rect x="4" y="73" width="118" height="20.5" fill="#fff" fill-opacity="0.6"/>
<rect x="4" y="93.5" width="91" height="22.2" fill="#fff" fill-opacity="0.6"/>
<text x="8.6" y="65.8" font-size="12" fill="#4a4e59" textLength="115.5" lengthAdjust="spacingAndGlyphs">Ichimoku2c 9 26 52 26</text>
<text x="134.7" y="65.8" font-size="12" fill="#ff1a1a" textLength="34.5" lengthAdjust="spacingAndGlyphs">206.98</text>
<text x="175.3" y="65.8" font-size="12" fill="#1a1aff" textLength="34.5" lengthAdjust="spacingAndGlyphs">205.57</text>
<text x="215.4" y="65.8" font-size="12" fill="#138a7c" textLength="34.5" lengthAdjust="spacingAndGlyphs">209.20</text>
<text x="255.6" y="65.8" font-size="12" fill="#8b1a9b" textLength="34.5" lengthAdjust="spacingAndGlyphs">200.87</text>
<text x="296.3" y="65.8" font-size="12" fill="#1f8f1f" textLength="34.5" lengthAdjust="spacingAndGlyphs">201.64</text>
<text x="8.6" y="87" font-size="12" fill="#4a4e59" textLength="64.5" lengthAdjust="spacingAndGlyphs">MA 9 close 0</text>
<text x="83.5" y="87" font-size="12" fill="#2196f3" textLength="34.5" lengthAdjust="spacingAndGlyphs">207.66</text>
<text x="8.6" y="108.8" font-size="12" fill="#4a4e59" textLength="35.5" lengthAdjust="spacingAndGlyphs">Объём</text>
<text x="54.6" y="108.8" font-size="12" fill="#26a69a" textLength="35.5" lengthAdjust="spacingAndGlyphs">596.4K</text>
<rect x="8.5" y="118.8" width="26" height="17.4" rx="2.5" fill="#fff" fill-opacity="0.86" stroke="#cfd3dc" stroke-width="1"/>
<path d="M18 129.2L21.3 126L24.6 129.2" stroke="#2a2e39" stroke-width="1.3" fill="none"/>
<text x="8.6" y="572.3" font-size="12" fill="#4a4e59" textLength="61.5" lengthAdjust="spacingAndGlyphs">RSI 14 close</text>
<text x="80.4" y="572.3" font-size="12" fill="#9c27b0" textLength="28.5" lengthAdjust="spacingAndGlyphs">83.67</text>
<circle cx="21.1" cy="811.7" r="14.8" fill="#fff" stroke="#e4e1e6" stroke-width="1"/>
<g fill="#2ba3ee"><circle cx="14.3" cy="813.3" r="3.2"/><circle cx="19.7" cy="809.6" r="4.6"/><circle cx="26.4" cy="812.3" r="4.4"/><rect x="14.3" y="811" width="12.1" height="5.7" rx="0.5"/></g>
<path d="M11.4 814.6L18.8 809L23.6 814.1L28.6 808.6" stroke="#fff" stroke-width="1.15" fill="none" stroke-linejoin="round"/>
<circle cx="23.6" cy="814.1" r="0.9" fill="#fff"/>
</svg>
</body></html>
